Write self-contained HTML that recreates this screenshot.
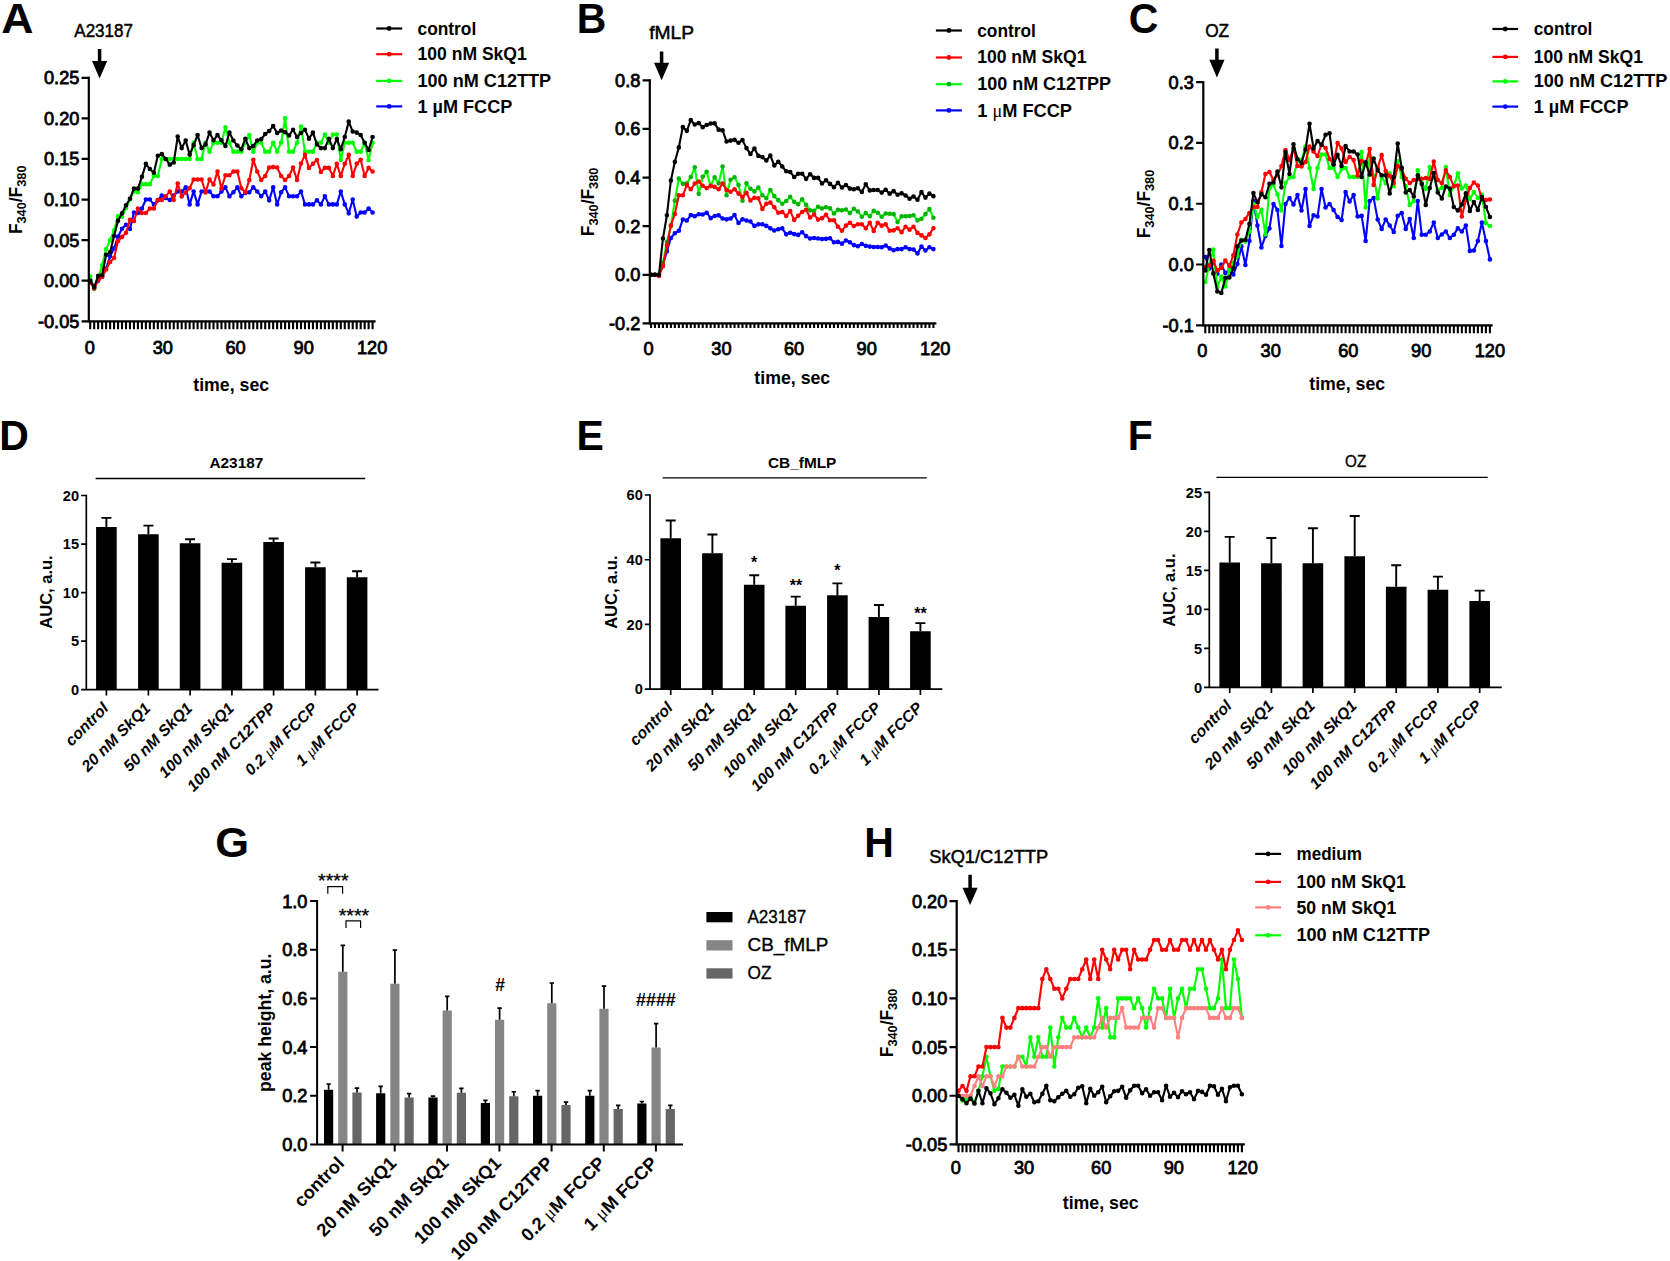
<!DOCTYPE html>
<html><head><meta charset="utf-8"><title>Figure</title>
<style>html,body{margin:0;padding:0;background:#fff}svg{display:block}</style></head>
<body>
<svg width="1670" height="1261" viewBox="0 0 1670 1261" font-family="'Liberation Sans',sans-serif" fill="#000">
<rect width="1670" height="1261" fill="#fff"/>
<g>
<polyline points="90.2,279.5 94.18,287.21 98.15,280.72 102.13,276.66 106.11,268.54 110.09,256.37 114.06,248.25 118.04,236.48 122.02,228.77 126,224.71 129.97,229.01 133.95,212.54 137.93,213.02 141.91,208.48 145.88,199.55 149.86,199.55 153.84,204.42 157.82,200.36 161.79,195.49 165.77,197.93 169.75,200.04 173.73,195.49 177.7,191.43 181.68,191.43 185.66,187.38 189.64,204.42 193.61,191.43 197.59,204.42 201.57,191.43 205.55,191.43 209.52,191.43 213.5,196.3 217.48,196.3 221.46,191.43 225.43,187.38 229.41,196.3 233.39,192.25 237.37,187.38 241.34,196.3 245.32,193.06 249.3,192.25 253.28,187.38 257.25,191.43 261.23,196.3 265.21,191.43 269.19,200.36 273.16,187.38 277.14,204.42 281.12,192.25 285.1,187.38 289.07,196.3 293.05,196.3 297.03,196.3 301.01,191.43 304.98,204.42 308.96,204.42 312.94,204.42 316.92,200.36 320.89,204.42 324.87,196.3 328.85,204.42 332.83,204.42 336.8,204.42 340.78,191.43 344.76,204.42 348.74,213.35 352.71,199.55 356.69,216.59 360.67,212.54 364.65,212.54 368.62,208.48 372.6,212.54" fill="none" stroke="#0000FF" stroke-width="2.1" stroke-linejoin="round"/>
<path d="M90.2 279.5h.01M94.18 287.21h.01M98.15 280.72h.01M102.13 276.66h.01M106.11 268.54h.01M110.09 256.37h.01M114.06 248.25h.01M118.04 236.48h.01M122.02 228.77h.01M126 224.71h.01M129.97 229.01h.01M133.95 212.54h.01M137.93 213.02h.01M141.91 208.48h.01M145.88 199.55h.01M149.86 199.55h.01M153.84 204.42h.01M157.82 200.36h.01M161.79 195.49h.01M165.77 197.93h.01M169.75 200.04h.01M173.73 195.49h.01M177.7 191.43h.01M181.68 191.43h.01M185.66 187.38h.01M189.64 204.42h.01M193.61 191.43h.01M197.59 204.42h.01M201.57 191.43h.01M205.55 191.43h.01M209.52 191.43h.01M213.5 196.3h.01M217.48 196.3h.01M221.46 191.43h.01M225.43 187.38h.01M229.41 196.3h.01M233.39 192.25h.01M237.37 187.38h.01M241.34 196.3h.01M245.32 193.06h.01M249.3 192.25h.01M253.28 187.38h.01M257.25 191.43h.01M261.23 196.3h.01M265.21 191.43h.01M269.19 200.36h.01M273.16 187.38h.01M277.14 204.42h.01M281.12 192.25h.01M285.1 187.38h.01M289.07 196.3h.01M293.05 196.3h.01M297.03 196.3h.01M301.01 191.43h.01M304.98 204.42h.01M308.96 204.42h.01M312.94 204.42h.01M316.92 200.36h.01M320.89 204.42h.01M324.87 196.3h.01M328.85 204.42h.01M332.83 204.42h.01M336.8 204.42h.01M340.78 191.43h.01M344.76 204.42h.01M348.74 213.35h.01M352.71 199.55h.01M356.69 216.59h.01M360.67 212.54h.01M364.65 212.54h.01M368.62 208.48h.01M372.6 212.54h.01" stroke="#0000FF" stroke-width="4.6" stroke-linecap="round" fill="none"/>
<polyline points="90.2,276.66 94.18,288.83 98.15,278.28 102.13,265.3 106.11,249.06 110.09,240.13 114.06,230.39 118.04,216.03 122.02,216.59 126,208.07 129.97,199.55 133.95,191.43 137.93,192.25 141.91,184.13 145.88,184.13 149.86,184.13 153.84,176.01 157.82,176.01 161.79,158.97 165.77,158.97 169.75,158.97 173.73,158.97 177.7,158.97 181.68,158.97 185.66,158.97 189.64,158.97 193.61,142.73 197.59,158.97 201.57,158.97 205.55,142.73 209.52,151.66 213.5,142.73 217.48,142.73 221.46,142.73 225.43,127.31 229.41,142.73 233.39,151.66 237.37,151.66 241.34,151.66 245.32,142.73 249.3,135.02 253.28,151.66 257.25,142.73 261.23,142.73 265.21,151.66 269.19,151.66 273.16,142.73 277.14,151.66 281.12,142.73 285.1,118.38 289.07,151.66 293.05,151.66 297.03,142.73 301.01,126.5 304.98,151.66 308.96,151.66 312.94,151.66 316.92,142.73 320.89,142.73 324.87,134.62 328.85,142.73 332.83,134.62 336.8,134.62 340.78,160.02 344.76,142.73 348.74,142.73 352.71,142.73 356.69,151.66 360.67,151.66 364.65,142.73 368.62,160.02 372.6,142.73" fill="none" stroke="#00FF00" stroke-width="2.1" stroke-linejoin="round"/>
<path d="M90.2 276.66h.01M94.18 288.83h.01M98.15 278.28h.01M102.13 265.3h.01M106.11 249.06h.01M110.09 240.13h.01M114.06 230.39h.01M118.04 216.03h.01M122.02 216.59h.01M126 208.07h.01M129.97 199.55h.01M133.95 191.43h.01M137.93 192.25h.01M141.91 184.13h.01M145.88 184.13h.01M149.86 184.13h.01M153.84 176.01h.01M157.82 176.01h.01M161.79 158.97h.01M165.77 158.97h.01M169.75 158.97h.01M173.73 158.97h.01M177.7 158.97h.01M181.68 158.97h.01M185.66 158.97h.01M189.64 158.97h.01M193.61 142.73h.01M197.59 158.97h.01M201.57 158.97h.01M205.55 142.73h.01M209.52 151.66h.01M213.5 142.73h.01M217.48 142.73h.01M221.46 142.73h.01M225.43 127.31h.01M229.41 142.73h.01M233.39 151.66h.01M237.37 151.66h.01M241.34 151.66h.01M245.32 142.73h.01M249.3 135.02h.01M253.28 151.66h.01M257.25 142.73h.01M261.23 142.73h.01M265.21 151.66h.01M269.19 151.66h.01M273.16 142.73h.01M277.14 151.66h.01M281.12 142.73h.01M285.1 118.38h.01M289.07 151.66h.01M293.05 151.66h.01M297.03 142.73h.01M301.01 126.5h.01M304.98 151.66h.01M308.96 151.66h.01M312.94 151.66h.01M316.92 142.73h.01M320.89 142.73h.01M324.87 134.62h.01M328.85 142.73h.01M332.83 134.62h.01M336.8 134.62h.01M340.78 160.02h.01M344.76 142.73h.01M348.74 142.73h.01M352.71 142.73h.01M356.69 151.66h.01M360.67 151.66h.01M364.65 142.73h.01M368.62 160.02h.01M372.6 142.73h.01" stroke="#00FF00" stroke-width="4.6" stroke-linecap="round" fill="none"/>
<polyline points="90.2,282.34 94.18,288.51 98.15,279.9 102.13,277.06 106.11,269.52 110.09,262.05 114.06,257.99 118.04,240.94 122.02,236.89 126,232.83 129.97,219.84 133.95,221.06 137.93,208.48 141.91,213.02 145.88,213.02 149.86,208.48 153.84,208.48 157.82,200.04 161.79,200.04 165.77,196.3 169.75,191.43 173.73,200.04 177.7,183.56 181.68,196.55 185.66,192.49 189.64,188.19 193.61,179.5 197.59,179.5 201.57,179.5 205.55,192.49 209.52,179.5 213.5,184.53 217.48,171.55 221.46,188.51 225.43,175.2 229.41,175.2 233.39,171.55 237.37,171.55 241.34,188.19 245.32,192.25 249.3,180.07 253.28,159.78 257.25,171.55 261.23,180.07 265.21,176.01 269.19,167.57 273.16,167.08 277.14,167.57 281.12,176.01 285.1,180.07 289.07,176.01 293.05,167.57 297.03,180.07 301.01,163.59 304.98,154.91 308.96,167.89 312.94,163.84 316.92,160.02 320.89,171.95 324.87,167.89 328.85,167.89 332.83,176.01 336.8,163.84 340.78,176.01 344.76,163.84 348.74,154.91 352.71,176.01 356.69,163.84 360.67,159.78 364.65,176.01 368.62,167.89 372.6,171.55" fill="none" stroke="#FF0000" stroke-width="2.1" stroke-linejoin="round"/>
<path d="M90.2 282.34h.01M94.18 288.51h.01M98.15 279.9h.01M102.13 277.06h.01M106.11 269.52h.01M110.09 262.05h.01M114.06 257.99h.01M118.04 240.94h.01M122.02 236.89h.01M126 232.83h.01M129.97 219.84h.01M133.95 221.06h.01M137.93 208.48h.01M141.91 213.02h.01M145.88 213.02h.01M149.86 208.48h.01M153.84 208.48h.01M157.82 200.04h.01M161.79 200.04h.01M165.77 196.3h.01M169.75 191.43h.01M173.73 200.04h.01M177.7 183.56h.01M181.68 196.55h.01M185.66 192.49h.01M189.64 188.19h.01M193.61 179.5h.01M197.59 179.5h.01M201.57 179.5h.01M205.55 192.49h.01M209.52 179.5h.01M213.5 184.53h.01M217.48 171.55h.01M221.46 188.51h.01M225.43 175.2h.01M229.41 175.2h.01M233.39 171.55h.01M237.37 171.55h.01M241.34 188.19h.01M245.32 192.25h.01M249.3 180.07h.01M253.28 159.78h.01M257.25 171.55h.01M261.23 180.07h.01M265.21 176.01h.01M269.19 167.57h.01M273.16 167.08h.01M277.14 167.57h.01M281.12 176.01h.01M285.1 180.07h.01M289.07 176.01h.01M293.05 167.57h.01M297.03 180.07h.01M301.01 163.59h.01M304.98 154.91h.01M308.96 167.89h.01M312.94 163.84h.01M316.92 160.02h.01M320.89 171.95h.01M324.87 167.89h.01M328.85 167.89h.01M332.83 176.01h.01M336.8 163.84h.01M340.78 176.01h.01M344.76 163.84h.01M348.74 154.91h.01M352.71 176.01h.01M356.69 163.84h.01M360.67 159.78h.01M364.65 176.01h.01M368.62 167.89h.01M372.6 171.55h.01" stroke="#FF0000" stroke-width="4.6" stroke-linecap="round" fill="none"/>
<polyline points="90.2,280.72 94.18,287.21 98.15,275.85 102.13,275.04 106.11,254.74 110.09,252.31 114.06,236.07 118.04,220.65 122.02,213.35 126,205.23 129.97,198.74 133.95,188.59 137.93,188.59 141.91,176.82 145.88,163.84 149.86,169.03 153.84,172.77 157.82,155.72 161.79,154.1 165.77,158.97 169.75,164.65 173.73,162.54 177.7,136.56 181.68,148.09 185.66,140.54 189.64,154.58 193.61,145.17 197.59,135.02 201.57,148.09 205.55,144.36 209.52,132.59 213.5,140.3 217.48,135.02 221.46,140.3 225.43,145.98 229.41,132.59 233.39,140.54 237.37,145.57 241.34,149.23 245.32,138.68 249.3,148.09 253.28,145.98 257.25,140.54 261.23,139.08 265.21,134.05 269.19,131.05 273.16,126.09 277.14,132.99 281.12,130.56 285.1,132.18 289.07,135.43 293.05,129.75 297.03,137.05 301.01,132.99 304.98,129.75 308.96,138.68 312.94,132.59 316.92,144.36 320.89,148.09 324.87,148.09 328.85,138.68 332.83,148.09 336.8,139.08 340.78,149.23 344.76,137.05 348.74,121.63 352.71,131.53 356.69,132.59 360.67,135.02 364.65,142.73 368.62,150.04 372.6,137.05" fill="none" stroke="#000" stroke-width="2.1" stroke-linejoin="round"/>
<path d="M90.2 280.72h.01M94.18 287.21h.01M98.15 275.85h.01M102.13 275.04h.01M106.11 254.74h.01M110.09 252.31h.01M114.06 236.07h.01M118.04 220.65h.01M122.02 213.35h.01M126 205.23h.01M129.97 198.74h.01M133.95 188.59h.01M137.93 188.59h.01M141.91 176.82h.01M145.88 163.84h.01M149.86 169.03h.01M153.84 172.77h.01M157.82 155.72h.01M161.79 154.1h.01M165.77 158.97h.01M169.75 164.65h.01M173.73 162.54h.01M177.7 136.56h.01M181.68 148.09h.01M185.66 140.54h.01M189.64 154.58h.01M193.61 145.17h.01M197.59 135.02h.01M201.57 148.09h.01M205.55 144.36h.01M209.52 132.59h.01M213.5 140.3h.01M217.48 135.02h.01M221.46 140.3h.01M225.43 145.98h.01M229.41 132.59h.01M233.39 140.54h.01M237.37 145.57h.01M241.34 149.23h.01M245.32 138.68h.01M249.3 148.09h.01M253.28 145.98h.01M257.25 140.54h.01M261.23 139.08h.01M265.21 134.05h.01M269.19 131.05h.01M273.16 126.09h.01M277.14 132.99h.01M281.12 130.56h.01M285.1 132.18h.01M289.07 135.43h.01M293.05 129.75h.01M297.03 137.05h.01M301.01 132.99h.01M304.98 129.75h.01M308.96 138.68h.01M312.94 132.59h.01M316.92 144.36h.01M320.89 148.09h.01M324.87 148.09h.01M328.85 138.68h.01M332.83 148.09h.01M336.8 139.08h.01M340.78 149.23h.01M344.76 137.05h.01M348.74 121.63h.01M352.71 131.53h.01M356.69 132.59h.01M360.67 135.02h.01M364.65 142.73h.01M368.62 150.04h.01M372.6 137.05h.01" stroke="#000" stroke-width="4.6" stroke-linecap="round" fill="none"/>
<path d="M88.8 76.7V322.4" stroke="#000" stroke-width="2.2" fill="none"/>
<path d="M81.6 321.3H375.6" stroke="#000" stroke-width="2.2" fill="none"/>
<path d="M90.2 321.3v7.9M94.18 321.3v7.9M98.15 321.3v7.9M102.13 321.3v7.9M106.11 321.3v7.9M110.09 321.3v7.9M114.06 321.3v7.9M118.04 321.3v7.9M122.02 321.3v7.9M126 321.3v7.9M129.97 321.3v7.9M133.95 321.3v7.9M137.93 321.3v7.9M141.91 321.3v7.9M145.88 321.3v7.9M149.86 321.3v7.9M153.84 321.3v7.9M157.82 321.3v7.9M161.79 321.3v7.9M165.77 321.3v7.9M169.75 321.3v7.9M173.73 321.3v7.9M177.7 321.3v7.9M181.68 321.3v7.9M185.66 321.3v7.9M189.64 321.3v7.9M193.61 321.3v7.9M197.59 321.3v7.9M201.57 321.3v7.9M205.55 321.3v7.9M209.52 321.3v7.9M213.5 321.3v7.9M217.48 321.3v7.9M221.46 321.3v7.9M225.43 321.3v7.9M229.41 321.3v7.9M233.39 321.3v7.9M237.37 321.3v7.9M241.34 321.3v7.9M245.32 321.3v7.9M249.3 321.3v7.9M253.28 321.3v7.9M257.25 321.3v7.9M261.23 321.3v7.9M265.21 321.3v7.9M269.19 321.3v7.9M273.16 321.3v7.9M277.14 321.3v7.9M281.12 321.3v7.9M285.1 321.3v7.9M289.07 321.3v7.9M293.05 321.3v7.9M297.03 321.3v7.9M301.01 321.3v7.9M304.98 321.3v7.9M308.96 321.3v7.9M312.94 321.3v7.9M316.92 321.3v7.9M320.89 321.3v7.9M324.87 321.3v7.9M328.85 321.3v7.9M332.83 321.3v7.9M336.8 321.3v7.9M340.78 321.3v7.9M344.76 321.3v7.9M348.74 321.3v7.9M352.71 321.3v7.9M356.69 321.3v7.9M360.67 321.3v7.9M364.65 321.3v7.9M368.62 321.3v7.9M372.6 321.3v7.9" stroke="#000" stroke-width="2.1" fill="none"/>
<text x="79.4" y="84.3" font-size="18.2" text-anchor="end" stroke="#000" stroke-width="0.8">0.25</text>
<text x="79.4" y="124.88" font-size="18.2" text-anchor="end" stroke="#000" stroke-width="0.8">0.20</text>
<text x="79.4" y="165.47" font-size="18.2" text-anchor="end" stroke="#000" stroke-width="0.8">0.15</text>
<text x="79.4" y="206.05" font-size="18.2" text-anchor="end" stroke="#000" stroke-width="0.8">0.10</text>
<text x="79.4" y="246.63" font-size="18.2" text-anchor="end" stroke="#000" stroke-width="0.8">0.05</text>
<text x="79.4" y="287.22" font-size="18.2" text-anchor="end" stroke="#000" stroke-width="0.8">0.00</text>
<text x="79.4" y="327.8" font-size="18.2" text-anchor="end" stroke="#000" stroke-width="0.8">-0.05</text>
<path d="M81.6 77.8H88.8M81.6 118.38H88.8M81.6 158.97H88.8M81.6 199.55H88.8M81.6 240.13H88.8M81.6 280.72H88.8" stroke="#000" stroke-width="2.2" fill="none"/>
<text x="89.9" y="354.2" font-size="18.2" text-anchor="middle" stroke="#000" stroke-width="0.8">0</text>
<text x="162.8" y="354.2" font-size="18.2" text-anchor="middle" stroke="#000" stroke-width="0.8">30</text>
<text x="235.5" y="354.2" font-size="18.2" text-anchor="middle" stroke="#000" stroke-width="0.8">60</text>
<text x="303.7" y="354.2" font-size="18.2" text-anchor="middle" stroke="#000" stroke-width="0.8">90</text>
<text x="372.1" y="354.2" font-size="18.2" text-anchor="middle" stroke="#000" stroke-width="0.8">120</text>
<text x="231.2" y="390.8" font-size="18.2" text-anchor="middle" font-weight="bold" textLength="75.9" lengthAdjust="spacingAndGlyphs" >time, sec</text>
<text transform="translate(22.2 199.8) rotate(-90)" font-size="18.2" font-weight="bold" text-anchor="middle" textLength="68.6" lengthAdjust="spacingAndGlyphs">F<tspan font-size="13.4" dy="4.2">340</tspan><tspan dy="-4.2">/F</tspan><tspan font-size="13.4" dy="4.2">380</tspan></text>
<path d="M376.2 28.5H402.2" stroke="#000" stroke-width="2.2" fill="none"/>
<circle cx="389.2" cy="28.5" r="2.4" fill="#000"/>
<text x="417.5" y="34.7" font-size="18.2" font-weight="bold" textLength="58.7" lengthAdjust="spacingAndGlyphs" >control</text>
<path d="M376.2 54.2H402.2" stroke="#FF0000" stroke-width="2.2" fill="none"/>
<circle cx="389.2" cy="54.2" r="2.4" fill="#FF0000"/>
<text x="417.5" y="60.2" font-size="18.2" font-weight="bold" textLength="109.3" lengthAdjust="spacingAndGlyphs" >100 nM SkQ1</text>
<path d="M376.2 80.9H402.2" stroke="#00FF00" stroke-width="2.2" fill="none"/>
<circle cx="389.2" cy="80.9" r="2.4" fill="#00FF00"/>
<text x="417.5" y="86.9" font-size="18.2" font-weight="bold" textLength="133.7" lengthAdjust="spacingAndGlyphs" >100 nM C12TTP</text>
<path d="M376.2 106.4H402.2" stroke="#0000FF" stroke-width="2.2" fill="none"/>
<circle cx="389.2" cy="106.4" r="2.4" fill="#0000FF"/>
<text x="417.5" y="112.6" font-size="18.2" font-weight="bold" textLength="94.8" lengthAdjust="spacingAndGlyphs" >1 µM FCCP</text>
<text x="74.3" y="37.1" font-size="18.8" textLength="58.7" lengthAdjust="spacingAndGlyphs" stroke="#000" stroke-width="0.5">A23187</text>
<path d="M97.85 49.1V61H92L99.6 78.4L107.2 61H101.35V49.1Z" fill="#000"/>
<text transform="translate(1.2 33.3) scale(1.09,1.045)" font-size="41" font-weight="bold">A</text>
</g>
<g>
<polyline points="651,274.78 654.98,274.78 658.95,274.78 662.93,265.06 666.91,251.2 670.89,237.93 674.86,233.21 678.84,230.78 682.82,219.6 686.8,220.57 690.77,215.12 694.75,216.31 698.73,214.25 702.71,214.49 706.68,212.72 710.66,218.14 714.64,215.95 718.62,215.37 722.59,218.48 726.57,219.35 730.55,218.48 734.53,215.12 738.5,222.93 742.48,219.35 746.46,220.57 750.44,221.54 754.41,225.92 758.39,224.36 762.37,224.22 766.35,225.92 770.32,228.35 774.3,230.54 778.28,229.32 782.26,228.35 786.23,234.33 790.21,232.72 794.19,234.09 798.17,234.91 802.14,232.24 806.12,236.13 810.1,238.56 814.08,237.93 818.05,238.56 822.03,239.12 826.01,238.87 829.99,238.31 833.96,242.25 837.94,241.89 841.92,243.66 845.9,240.5 849.87,242.25 853.85,245.12 857.83,246.22 861.81,244.05 865.78,245.85 869.76,246.58 873.74,246.95 877.72,246.95 881.69,247.31 885.67,245.49 889.65,248.38 893.63,250.23 897.6,249.08 901.58,249.08 905.56,247.31 909.54,249.08 913.51,249.5 917.49,253.41 921.47,246.58 925.45,250.54 929.42,247.31 933.4,249.08" fill="none" stroke="#0000FF" stroke-width="2.1" stroke-linejoin="round"/>
<path d="M651 274.78h.01M654.98 274.78h.01M658.95 274.78h.01M662.93 265.06h.01M666.91 251.2h.01M670.89 237.93h.01M674.86 233.21h.01M678.84 230.78h.01M682.82 219.6h.01M686.8 220.57h.01M690.77 215.12h.01M694.75 216.31h.01M698.73 214.25h.01M702.71 214.49h.01M706.68 212.72h.01M710.66 218.14h.01M714.64 215.95h.01M718.62 215.37h.01M722.59 218.48h.01M726.57 219.35h.01M730.55 218.48h.01M734.53 215.12h.01M738.5 222.93h.01M742.48 219.35h.01M746.46 220.57h.01M750.44 221.54h.01M754.41 225.92h.01M758.39 224.36h.01M762.37 224.22h.01M766.35 225.92h.01M770.32 228.35h.01M774.3 230.54h.01M778.28 229.32h.01M782.26 228.35h.01M786.23 234.33h.01M790.21 232.72h.01M794.19 234.09h.01M798.17 234.91h.01M802.14 232.24h.01M806.12 236.13h.01M810.1 238.56h.01M814.08 237.93h.01M818.05 238.56h.01M822.03 239.12h.01M826.01 238.87h.01M829.99 238.31h.01M833.96 242.25h.01M837.94 241.89h.01M841.92 243.66h.01M845.9 240.5h.01M849.87 242.25h.01M853.85 245.12h.01M857.83 246.22h.01M861.81 244.05h.01M865.78 245.85h.01M869.76 246.58h.01M873.74 246.95h.01M877.72 246.95h.01M881.69 247.31h.01M885.67 245.49h.01M889.65 248.38h.01M893.63 250.23h.01M897.6 249.08h.01M901.58 249.08h.01M905.56 247.31h.01M909.54 249.08h.01M913.51 249.5h.01M917.49 253.41h.01M921.47 246.58h.01M925.45 250.54h.01M929.42 247.31h.01M933.4 249.08h.01" stroke="#0000FF" stroke-width="4.6" stroke-linecap="round" fill="none"/>
<polyline points="651,274.78 654.98,274.78 658.95,274.78 662.93,262.62 666.91,241.96 670.89,226.16 674.86,200.63 678.84,178.51 682.82,183.86 686.8,183.37 690.77,176.93 694.75,167.33 698.73,193.83 702.71,176.69 706.68,171.71 710.66,186.29 714.64,177.3 718.62,183.37 722.59,166.6 726.57,195.29 730.55,179.73 734.53,177.3 738.5,185.08 742.48,200.63 746.46,183.37 750.44,188.72 754.41,191.4 758.39,187.51 762.37,195.29 766.35,198.3 770.32,189.94 774.3,196.14 778.28,200.15 782.26,203.79 786.23,200.95 790.21,196.87 794.19,201.85 798.17,204.28 802.14,199.42 806.12,204.91 810.1,210.36 814.08,210.92 818.05,206.71 822.03,208.51 826.01,207.32 829.99,208.41 833.96,213.45 837.94,209.87 841.92,210.19 845.9,209.48 849.87,213.08 853.85,208.75 857.83,211.57 861.81,216.68 865.78,213.08 869.76,216.31 873.74,210.92 877.72,212.72 881.69,216.68 885.67,213.45 889.65,213.81 893.63,214.15 897.6,222.08 901.58,216.31 905.56,216.31 909.54,215.95 913.51,215.22 917.49,220.33 921.47,218.87 925.45,214.15 929.42,209.14 933.4,217.77" fill="none" stroke="#00FF00" stroke-width="2.1" stroke-linejoin="round"/>
<path d="M651 274.78h.01M654.98 274.78h.01M658.95 274.78h.01M662.93 262.62h.01M666.91 241.96h.01M670.89 226.16h.01M674.86 200.63h.01M678.84 178.51h.01M682.82 183.86h.01M686.8 183.37h.01M690.77 176.93h.01M694.75 167.33h.01M698.73 193.83h.01M702.71 176.69h.01M706.68 171.71h.01M710.66 186.29h.01M714.64 177.3h.01M718.62 183.37h.01M722.59 166.6h.01M726.57 195.29h.01M730.55 179.73h.01M734.53 177.3h.01M738.5 185.08h.01M742.48 200.63h.01M746.46 183.37h.01M750.44 188.72h.01M754.41 191.4h.01M758.39 187.51h.01M762.37 195.29h.01M766.35 198.3h.01M770.32 189.94h.01M774.3 196.14h.01M778.28 200.15h.01M782.26 203.79h.01M786.23 200.95h.01M790.21 196.87h.01M794.19 201.85h.01M798.17 204.28h.01M802.14 199.42h.01M806.12 204.91h.01M810.1 210.36h.01M814.08 210.92h.01M818.05 206.71h.01M822.03 208.51h.01M826.01 207.32h.01M829.99 208.41h.01M833.96 213.45h.01M837.94 209.87h.01M841.92 210.19h.01M845.9 209.48h.01M849.87 213.08h.01M853.85 208.75h.01M857.83 211.57h.01M861.81 216.68h.01M865.78 213.08h.01M869.76 216.31h.01M873.74 210.92h.01M877.72 212.72h.01M881.69 216.68h.01M885.67 213.45h.01M889.65 213.81h.01M893.63 214.15h.01M897.6 222.08h.01M901.58 216.31h.01M905.56 216.31h.01M909.54 215.95h.01M913.51 215.22h.01M917.49 220.33h.01M921.47 218.87h.01M925.45 214.15h.01M929.42 209.14h.01M933.4 217.77h.01" stroke="#00B400" stroke-width="4.6" stroke-linecap="round" fill="none"/>
<polyline points="651,274.78 654.98,274.78 658.95,276 662.93,266.13 666.91,245.61 670.89,225.31 674.86,214 678.84,195.29 682.82,195.29 686.8,185.08 690.77,189.31 694.75,183.54 698.73,181.5 702.71,185.71 706.68,188.11 710.66,185.71 714.64,186.9 718.62,189.31 722.59,183.54 726.57,189.94 730.55,191.71 734.53,189.31 738.5,193.58 742.48,197.11 746.46,192.9 750.44,200.46 754.41,197.72 758.39,198.3 762.37,208.9 766.35,203.79 770.32,202.58 774.3,207.32 778.28,212.79 782.26,212.06 786.23,215.95 790.21,211.16 794.19,219.91 798.17,215.71 802.14,212.06 806.12,209.7 810.1,217.51 814.08,214.49 818.05,219.6 822.03,218.14 826.01,214.88 829.99,220.28 833.96,220.28 837.94,226.77 841.92,230.78 845.9,225.67 849.87,222.81 853.85,226.04 857.83,224.22 861.81,224.22 865.78,228.2 869.76,222.81 873.74,231.02 877.72,222.81 881.69,225.67 885.67,224.22 889.65,230.78 893.63,230.37 897.6,228.2 901.58,232.16 905.56,226.77 909.54,229.64 913.51,226.77 917.49,232.89 921.47,235.4 925.45,237.93 929.42,234.33 933.4,228.2" fill="none" stroke="#FF0000" stroke-width="2.1" stroke-linejoin="round"/>
<path d="M651 274.78h.01M654.98 274.78h.01M658.95 276h.01M662.93 266.13h.01M666.91 245.61h.01M670.89 225.31h.01M674.86 214h.01M678.84 195.29h.01M682.82 195.29h.01M686.8 185.08h.01M690.77 189.31h.01M694.75 183.54h.01M698.73 181.5h.01M702.71 185.71h.01M706.68 188.11h.01M710.66 185.71h.01M714.64 186.9h.01M718.62 189.31h.01M722.59 183.54h.01M726.57 189.94h.01M730.55 191.71h.01M734.53 189.31h.01M738.5 193.58h.01M742.48 197.11h.01M746.46 192.9h.01M750.44 200.46h.01M754.41 197.72h.01M758.39 198.3h.01M762.37 208.9h.01M766.35 203.79h.01M770.32 202.58h.01M774.3 207.32h.01M778.28 212.79h.01M782.26 212.06h.01M786.23 215.95h.01M790.21 211.16h.01M794.19 219.91h.01M798.17 215.71h.01M802.14 212.06h.01M806.12 209.7h.01M810.1 217.51h.01M814.08 214.49h.01M818.05 219.6h.01M822.03 218.14h.01M826.01 214.88h.01M829.99 220.28h.01M833.96 220.28h.01M837.94 226.77h.01M841.92 230.78h.01M845.9 225.67h.01M849.87 222.81h.01M853.85 226.04h.01M857.83 224.22h.01M861.81 224.22h.01M865.78 228.2h.01M869.76 222.81h.01M873.74 231.02h.01M877.72 222.81h.01M881.69 225.67h.01M885.67 224.22h.01M889.65 230.78h.01M893.63 230.37h.01M897.6 228.2h.01M901.58 232.16h.01M905.56 226.77h.01M909.54 229.64h.01M913.51 226.77h.01M917.49 232.89h.01M921.47 235.4h.01M925.45 237.93h.01M929.42 234.33h.01M933.4 228.2h.01" stroke="#FF0000" stroke-width="4.6" stroke-linecap="round" fill="none"/>
<polyline points="651,274.78 654.98,274.78 658.95,274.78 662.93,238.56 666.91,215.22 670.89,180.46 674.86,161.74 678.84,147.4 682.82,126.98 686.8,130.86 690.77,120.17 694.75,124.54 698.73,123.09 702.71,127.22 706.68,125.03 710.66,123.57 714.64,123.33 718.62,129.65 722.59,130.38 726.57,141.56 730.55,140.59 734.53,139.86 738.5,142.78 742.48,140.1 746.46,148.12 750.44,153.96 754.41,148.61 758.39,155.9 762.37,157.12 766.35,160.52 770.32,155.66 774.3,165.38 778.28,161.74 782.26,166.5 786.23,171.29 790.21,171.95 794.19,177.05 798.17,173.7 802.14,173.7 806.12,178.85 810.1,174.31 814.08,177.9 818.05,177.9 822.03,183.54 826.01,180.31 829.99,183.91 833.96,187.14 837.94,182.89 841.92,187.51 845.9,184.98 849.87,188.6 853.85,189.31 857.83,188.24 861.81,191.88 865.78,184.35 869.76,190.42 873.74,190.04 877.72,190.04 881.69,192.61 885.67,189.69 889.65,193.63 893.63,191.15 897.6,194.8 901.58,193.34 905.56,195.53 909.54,198.69 913.51,196.5 917.49,199.76 921.47,192.13 925.45,197.6 929.42,193.63 933.4,196.16" fill="none" stroke="#000" stroke-width="2.1" stroke-linejoin="round"/>
<path d="M651 274.78h.01M654.98 274.78h.01M658.95 274.78h.01M662.93 238.56h.01M666.91 215.22h.01M670.89 180.46h.01M674.86 161.74h.01M678.84 147.4h.01M682.82 126.98h.01M686.8 130.86h.01M690.77 120.17h.01M694.75 124.54h.01M698.73 123.09h.01M702.71 127.22h.01M706.68 125.03h.01M710.66 123.57h.01M714.64 123.33h.01M718.62 129.65h.01M722.59 130.38h.01M726.57 141.56h.01M730.55 140.59h.01M734.53 139.86h.01M738.5 142.78h.01M742.48 140.1h.01M746.46 148.12h.01M750.44 153.96h.01M754.41 148.61h.01M758.39 155.9h.01M762.37 157.12h.01M766.35 160.52h.01M770.32 155.66h.01M774.3 165.38h.01M778.28 161.74h.01M782.26 166.5h.01M786.23 171.29h.01M790.21 171.95h.01M794.19 177.05h.01M798.17 173.7h.01M802.14 173.7h.01M806.12 178.85h.01M810.1 174.31h.01M814.08 177.9h.01M818.05 177.9h.01M822.03 183.54h.01M826.01 180.31h.01M829.99 183.91h.01M833.96 187.14h.01M837.94 182.89h.01M841.92 187.51h.01M845.9 184.98h.01M849.87 188.6h.01M853.85 189.31h.01M857.83 188.24h.01M861.81 191.88h.01M865.78 184.35h.01M869.76 190.42h.01M873.74 190.04h.01M877.72 190.04h.01M881.69 192.61h.01M885.67 189.69h.01M889.65 193.63h.01M893.63 191.15h.01M897.6 194.8h.01M901.58 193.34h.01M905.56 195.53h.01M909.54 198.69h.01M913.51 196.5h.01M917.49 199.76h.01M921.47 192.13h.01M925.45 197.6h.01M929.42 193.63h.01M933.4 196.16h.01" stroke="#000" stroke-width="4.6" stroke-linecap="round" fill="none"/>
<path d="M649.8 79.2V324.5" stroke="#000" stroke-width="2.2" fill="none"/>
<path d="M642.6 323.4H936.4" stroke="#000" stroke-width="2.2" fill="none"/>
<path d="M651 323.4v4.7M654.98 323.4v4.7M658.95 323.4v4.7M662.93 323.4v4.7M666.91 323.4v4.7M670.89 323.4v4.7M674.86 323.4v4.7M678.84 323.4v4.7M682.82 323.4v4.7M686.8 323.4v4.7M690.77 323.4v4.7M694.75 323.4v4.7M698.73 323.4v4.7M702.71 323.4v4.7M706.68 323.4v4.7M710.66 323.4v4.7M714.64 323.4v4.7M718.62 323.4v4.7M722.59 323.4v4.7M726.57 323.4v4.7M730.55 323.4v4.7M734.53 323.4v4.7M738.5 323.4v4.7M742.48 323.4v4.7M746.46 323.4v4.7M750.44 323.4v4.7M754.41 323.4v4.7M758.39 323.4v4.7M762.37 323.4v4.7M766.35 323.4v4.7M770.32 323.4v4.7M774.3 323.4v4.7M778.28 323.4v4.7M782.26 323.4v4.7M786.23 323.4v4.7M790.21 323.4v4.7M794.19 323.4v4.7M798.17 323.4v4.7M802.14 323.4v4.7M806.12 323.4v4.7M810.1 323.4v4.7M814.08 323.4v4.7M818.05 323.4v4.7M822.03 323.4v4.7M826.01 323.4v4.7M829.99 323.4v4.7M833.96 323.4v4.7M837.94 323.4v4.7M841.92 323.4v4.7M845.9 323.4v4.7M849.87 323.4v4.7M853.85 323.4v4.7M857.83 323.4v4.7M861.81 323.4v4.7M865.78 323.4v4.7M869.76 323.4v4.7M873.74 323.4v4.7M877.72 323.4v4.7M881.69 323.4v4.7M885.67 323.4v4.7M889.65 323.4v4.7M893.63 323.4v4.7M897.6 323.4v4.7M901.58 323.4v4.7M905.56 323.4v4.7M909.54 323.4v4.7M913.51 323.4v4.7M917.49 323.4v4.7M921.47 323.4v4.7M925.45 323.4v4.7M929.42 323.4v4.7M933.4 323.4v4.7" stroke="#000" stroke-width="2.1" fill="none"/>
<text x="640.4" y="86.8" font-size="18.2" text-anchor="end" stroke="#000" stroke-width="0.8">0.8</text>
<text x="640.4" y="135.42" font-size="18.2" text-anchor="end" stroke="#000" stroke-width="0.8">0.6</text>
<text x="640.4" y="184.04" font-size="18.2" text-anchor="end" stroke="#000" stroke-width="0.8">0.4</text>
<text x="640.4" y="232.66" font-size="18.2" text-anchor="end" stroke="#000" stroke-width="0.8">0.2</text>
<text x="640.4" y="281.28" font-size="18.2" text-anchor="end" stroke="#000" stroke-width="0.8">0.0</text>
<text x="640.4" y="329.9" font-size="18.2" text-anchor="end" stroke="#000" stroke-width="0.8">-0.2</text>
<path d="M642.6 80.3H649.8M642.6 128.92H649.8M642.6 177.54H649.8M642.6 226.16H649.8M642.6 274.78H649.8" stroke="#000" stroke-width="2.2" fill="none"/>
<text x="648.5" y="354.7" font-size="18.2" text-anchor="middle" stroke="#000" stroke-width="0.8">0</text>
<text x="721.4" y="354.7" font-size="18.2" text-anchor="middle" stroke="#000" stroke-width="0.8">30</text>
<text x="794" y="354.7" font-size="18.2" text-anchor="middle" stroke="#000" stroke-width="0.8">60</text>
<text x="866.7" y="354.7" font-size="18.2" text-anchor="middle" stroke="#000" stroke-width="0.8">90</text>
<text x="935.2" y="354.7" font-size="18.2" text-anchor="middle" stroke="#000" stroke-width="0.8">120</text>
<text x="792.3" y="384.2" font-size="18.2" text-anchor="middle" font-weight="bold" textLength="75.9" lengthAdjust="spacingAndGlyphs" >time, sec</text>
<text transform="translate(594 201.9) rotate(-90)" font-size="18.2" font-weight="bold" text-anchor="middle" textLength="68.6" lengthAdjust="spacingAndGlyphs">F<tspan font-size="13.4" dy="4.2">340</tspan><tspan dy="-4.2">/F</tspan><tspan font-size="13.4" dy="4.2">380</tspan></text>
<path d="M935.9 30.5H961.9" stroke="#000" stroke-width="2.2" fill="none"/>
<circle cx="948.9" cy="30.5" r="2.4" fill="#000"/>
<text x="977.2" y="36.5" font-size="18.2" font-weight="bold" textLength="58.7" lengthAdjust="spacingAndGlyphs" >control</text>
<path d="M935.9 57.5H961.9" stroke="#FF0000" stroke-width="2.2" fill="none"/>
<circle cx="948.9" cy="57.5" r="2.4" fill="#FF0000"/>
<text x="977.2" y="63.4" font-size="18.2" font-weight="bold" textLength="109.3" lengthAdjust="spacingAndGlyphs" >100 nM SkQ1</text>
<path d="M935.9 84.2H961.9" stroke="#00FF00" stroke-width="2.2" fill="none"/>
<circle cx="948.9" cy="84.2" r="2.4" fill="#00B400"/>
<text x="977.2" y="90.1" font-size="18.2" font-weight="bold" textLength="133.8" lengthAdjust="spacingAndGlyphs" >100 nM C12TPP</text>
<path d="M935.9 110.4H961.9" stroke="#0000FF" stroke-width="2.2" fill="none"/>
<circle cx="948.9" cy="110.4" r="2.4" fill="#0000FF"/>
<text x="977.2" y="116.5" font-size="18.2" font-weight="bold" textLength="94.8" lengthAdjust="spacingAndGlyphs" >1 <tspan font-family="Liberation Serif,DejaVu Serif,serif" font-weight="normal">μ</tspan>M FCCP</text>
<text x="649.2" y="38.9" font-size="18.8" textLength="44.9" lengthAdjust="spacingAndGlyphs" stroke="#000" stroke-width="0.5">fMLP</text>
<path d="M659.85 51.5V62.8H654L661.6 80.2L669.2 62.8H663.35V51.5Z" fill="#000"/>
<text transform="translate(576.8 33.3) scale(1,1.045)" font-size="41" font-weight="bold">B</text>
</g>
<g>
<polyline points="1205.3,256.93 1209.31,268.41 1213.32,261.49 1217.33,273.64 1221.33,264.52 1225.34,272.91 1229.35,269.99 1233.36,274.43 1237.37,263.92 1241.38,246.41 1245.38,264.95 1249.39,240.94 1253.4,200.95 1257.41,225.45 1261.42,247.51 1265.43,235.96 1269.44,228.42 1273.44,203.93 1277.45,209.95 1281.46,245.93 1285.47,203.93 1289.48,197.98 1293.49,204.48 1297.49,194.94 1301.5,210.44 1305.51,188.98 1309.52,225.93 1313.53,215.42 1317.54,216.45 1321.55,188.98 1325.55,207.46 1329.56,203.93 1333.57,209.95 1337.58,216.94 1341.59,219.92 1345.6,191.96 1349.6,201.44 1353.61,194.94 1357.62,216.45 1361.63,215.91 1365.64,240.94 1369.65,200.95 1373.65,197.98 1377.66,219.43 1381.67,228.91 1385.68,219.43 1389.69,225.45 1393.7,231.95 1397.71,215.91 1401.71,212.93 1405.72,228.91 1409.73,218.94 1413.74,237.94 1417.75,200.95 1421.76,234.75 1425.76,234.75 1429.77,231.46 1433.78,222.47 1437.79,237.94 1441.8,234.44 1445.81,231.46 1449.82,237.94 1453.82,234.75 1457.83,228.42 1461.84,231.46 1465.85,225.45 1469.86,250.91 1473.87,250.43 1477.87,240.94 1481.88,222.47 1485.89,240.94 1489.9,259.42" fill="none" stroke="#0000FF" stroke-width="2.1" stroke-linejoin="round"/>
<path d="M1205.3 256.93h.01M1209.31 268.41h.01M1213.32 261.49h.01M1217.33 273.64h.01M1221.33 264.52h.01M1225.34 272.91h.01M1229.35 269.99h.01M1233.36 274.43h.01M1237.37 263.92h.01M1241.38 246.41h.01M1245.38 264.95h.01M1249.39 240.94h.01M1253.4 200.95h.01M1257.41 225.45h.01M1261.42 247.51h.01M1265.43 235.96h.01M1269.44 228.42h.01M1273.44 203.93h.01M1277.45 209.95h.01M1281.46 245.93h.01M1285.47 203.93h.01M1289.48 197.98h.01M1293.49 204.48h.01M1297.49 194.94h.01M1301.5 210.44h.01M1305.51 188.98h.01M1309.52 225.93h.01M1313.53 215.42h.01M1317.54 216.45h.01M1321.55 188.98h.01M1325.55 207.46h.01M1329.56 203.93h.01M1333.57 209.95h.01M1337.58 216.94h.01M1341.59 219.92h.01M1345.6 191.96h.01M1349.6 201.44h.01M1353.61 194.94h.01M1357.62 216.45h.01M1361.63 215.91h.01M1365.64 240.94h.01M1369.65 200.95h.01M1373.65 197.98h.01M1377.66 219.43h.01M1381.67 228.91h.01M1385.68 219.43h.01M1389.69 225.45h.01M1393.7 231.95h.01M1397.71 215.91h.01M1401.71 212.93h.01M1405.72 228.91h.01M1409.73 218.94h.01M1413.74 237.94h.01M1417.75 200.95h.01M1421.76 234.75h.01M1425.76 234.75h.01M1429.77 231.46h.01M1433.78 222.47h.01M1437.79 237.94h.01M1441.8 234.44h.01M1445.81 231.46h.01M1449.82 237.94h.01M1453.82 234.75h.01M1457.83 228.42h.01M1461.84 231.46h.01M1465.85 225.45h.01M1469.86 250.91h.01M1473.87 250.43h.01M1477.87 240.94h.01M1481.88 222.47h.01M1485.89 240.94h.01M1489.9 259.42h.01" stroke="#0000FF" stroke-width="4.6" stroke-linecap="round" fill="none"/>
<polyline points="1205.3,281.91 1209.31,264.52 1213.32,249.45 1217.33,287.44 1221.33,276.44 1225.34,286.4 1229.35,269.99 1233.36,262.94 1237.37,256.02 1241.38,239.91 1245.38,241.43 1249.39,231.46 1253.4,203.93 1257.41,217.12 1261.42,209.83 1265.43,234.44 1269.44,187.95 1273.44,184.91 1277.45,194.45 1281.46,210.44 1285.47,182.96 1289.48,177.43 1293.49,177.01 1297.49,160.96 1301.5,159.99 1305.51,146.5 1309.52,167.95 1313.53,188.98 1317.54,167.95 1321.55,154.52 1325.55,154.52 1329.56,167.95 1333.57,167.95 1337.58,177.01 1341.59,169.11 1345.6,167.95 1349.6,177.01 1353.61,177.01 1357.62,177.01 1361.63,152.09 1365.64,207.4 1369.65,155.98 1373.65,175.79 1377.66,198.46 1381.67,177.01 1385.68,183.09 1389.69,173.36 1393.7,186.13 1397.71,160.96 1401.71,177.01 1405.72,186.13 1409.73,204.97 1413.74,200.95 1417.75,170.32 1421.76,183.09 1425.76,188.98 1429.77,166.98 1433.78,177.01 1437.79,189.95 1441.8,187.95 1445.81,166.98 1449.82,194.94 1453.82,186.13 1457.83,173.36 1461.84,188.56 1465.85,185.52 1469.86,198.89 1473.87,191.96 1477.87,197.98 1481.88,194.45 1485.89,222.95 1489.9,225.93" fill="none" stroke="#00FF00" stroke-width="2.1" stroke-linejoin="round"/>
<path d="M1205.3 281.91h.01M1209.31 264.52h.01M1213.32 249.45h.01M1217.33 287.44h.01M1221.33 276.44h.01M1225.34 286.4h.01M1229.35 269.99h.01M1233.36 262.94h.01M1237.37 256.02h.01M1241.38 239.91h.01M1245.38 241.43h.01M1249.39 231.46h.01M1253.4 203.93h.01M1257.41 217.12h.01M1261.42 209.83h.01M1265.43 234.44h.01M1269.44 187.95h.01M1273.44 184.91h.01M1277.45 194.45h.01M1281.46 210.44h.01M1285.47 182.96h.01M1289.48 177.43h.01M1293.49 177.01h.01M1297.49 160.96h.01M1301.5 159.99h.01M1305.51 146.5h.01M1309.52 167.95h.01M1313.53 188.98h.01M1317.54 167.95h.01M1321.55 154.52h.01M1325.55 154.52h.01M1329.56 167.95h.01M1333.57 167.95h.01M1337.58 177.01h.01M1341.59 169.11h.01M1345.6 167.95h.01M1349.6 177.01h.01M1353.61 177.01h.01M1357.62 177.01h.01M1361.63 152.09h.01M1365.64 207.4h.01M1369.65 155.98h.01M1373.65 175.79h.01M1377.66 198.46h.01M1381.67 177.01h.01M1385.68 183.09h.01M1389.69 173.36h.01M1393.7 186.13h.01M1397.71 160.96h.01M1401.71 177.01h.01M1405.72 186.13h.01M1409.73 204.97h.01M1413.74 200.95h.01M1417.75 170.32h.01M1421.76 183.09h.01M1425.76 188.98h.01M1429.77 166.98h.01M1433.78 177.01h.01M1437.79 189.95h.01M1441.8 187.95h.01M1445.81 166.98h.01M1449.82 194.94h.01M1453.82 186.13h.01M1457.83 173.36h.01M1461.84 188.56h.01M1465.85 185.52h.01M1469.86 198.89h.01M1473.87 191.96h.01M1477.87 197.98h.01M1481.88 194.45h.01M1485.89 222.95h.01M1489.9 225.93h.01" stroke="#00FF00" stroke-width="4.6" stroke-linecap="round" fill="none"/>
<polyline points="1205.3,267.56 1209.31,265.44 1213.32,260.88 1217.33,270.42 1221.33,267.93 1225.34,260.45 1229.35,265.92 1233.36,255.41 1237.37,234.44 1241.38,222.47 1245.38,218.94 1249.39,212.93 1253.4,206.97 1257.41,206.97 1261.42,192.2 1265.43,173.97 1269.44,171.96 1273.44,180.05 1277.45,175.19 1281.46,166.07 1285.47,149.96 1289.48,159.99 1293.49,147.96 1297.49,166.07 1301.5,166.49 1305.51,162 1309.52,146.62 1313.53,151.48 1317.54,155.98 1321.55,144.19 1325.55,147.96 1329.56,158.96 1333.57,164.25 1337.58,142.97 1341.59,148.44 1345.6,162 1349.6,156.95 1353.61,159.99 1357.62,175.49 1361.63,160.96 1365.64,163.94 1369.65,149.05 1373.65,184.91 1377.66,167.89 1381.67,155.13 1385.68,170.93 1389.69,175.98 1393.7,183.09 1397.71,166.07 1401.71,169.11 1405.72,178.83 1409.73,183.09 1413.74,180.05 1417.75,178.83 1421.76,178.83 1425.76,177.98 1429.77,178.83 1433.78,161.45 1437.79,180.05 1441.8,183.09 1445.81,170.32 1449.82,177.01 1453.82,186.13 1457.83,185.52 1461.84,216.51 1465.85,200.1 1469.86,187.95 1473.87,182.48 1477.87,185.52 1481.88,198.89 1485.89,200.1 1489.9,199.5" fill="none" stroke="#FF0000" stroke-width="2.1" stroke-linejoin="round"/>
<path d="M1205.3 267.56h.01M1209.31 265.44h.01M1213.32 260.88h.01M1217.33 270.42h.01M1221.33 267.93h.01M1225.34 260.45h.01M1229.35 265.92h.01M1233.36 255.41h.01M1237.37 234.44h.01M1241.38 222.47h.01M1245.38 218.94h.01M1249.39 212.93h.01M1253.4 206.97h.01M1257.41 206.97h.01M1261.42 192.2h.01M1265.43 173.97h.01M1269.44 171.96h.01M1273.44 180.05h.01M1277.45 175.19h.01M1281.46 166.07h.01M1285.47 149.96h.01M1289.48 159.99h.01M1293.49 147.96h.01M1297.49 166.07h.01M1301.5 166.49h.01M1305.51 162h.01M1309.52 146.62h.01M1313.53 151.48h.01M1317.54 155.98h.01M1321.55 144.19h.01M1325.55 147.96h.01M1329.56 158.96h.01M1333.57 164.25h.01M1337.58 142.97h.01M1341.59 148.44h.01M1345.6 162h.01M1349.6 156.95h.01M1353.61 159.99h.01M1357.62 175.49h.01M1361.63 160.96h.01M1365.64 163.94h.01M1369.65 149.05h.01M1373.65 184.91h.01M1377.66 167.89h.01M1381.67 155.13h.01M1385.68 170.93h.01M1389.69 175.98h.01M1393.7 183.09h.01M1397.71 166.07h.01M1401.71 169.11h.01M1405.72 178.83h.01M1409.73 183.09h.01M1413.74 180.05h.01M1417.75 178.83h.01M1421.76 178.83h.01M1425.76 177.98h.01M1429.77 178.83h.01M1433.78 161.45h.01M1437.79 180.05h.01M1441.8 183.09h.01M1445.81 170.32h.01M1449.82 177.01h.01M1453.82 186.13h.01M1457.83 185.52h.01M1461.84 216.51h.01M1465.85 200.1h.01M1469.86 187.95h.01M1473.87 182.48h.01M1477.87 185.52h.01M1481.88 198.89h.01M1485.89 200.1h.01M1489.9 199.5h.01" stroke="#FF0000" stroke-width="4.6" stroke-linecap="round" fill="none"/>
<polyline points="1205.3,270.42 1209.31,249.94 1213.32,273.4 1217.33,291.39 1221.33,292.91 1225.34,277.9 1229.35,277.41 1233.36,268.41 1237.37,246.41 1241.38,240.46 1245.38,239.91 1249.39,223.93 1253.4,193.11 1257.41,202.23 1261.42,194.21 1265.43,197.19 1269.44,183.69 1273.44,182.48 1277.45,171.54 1281.46,187.34 1285.47,152.09 1289.48,173.97 1293.49,144.19 1297.49,158.96 1301.5,163.03 1305.51,149.48 1309.52,123.77 1313.53,148.44 1317.54,140.97 1321.55,144.98 1325.55,134.77 1329.56,133.25 1333.57,164.49 1337.58,154.77 1341.59,166.07 1345.6,146.01 1349.6,151.48 1353.61,151.48 1357.62,154.52 1361.63,177.01 1365.64,162.42 1369.65,174.58 1373.65,158.47 1377.66,170.32 1381.67,175.19 1385.68,175.19 1389.69,193.42 1393.7,177.01 1397.71,143.58 1401.71,167.89 1405.72,192.45 1409.73,189.95 1413.74,196.46 1417.75,175.19 1421.76,183.94 1425.76,204.97 1429.77,187.95 1433.78,172.94 1437.79,192.45 1441.8,198.46 1445.81,186.43 1449.82,188.56 1453.82,206.97 1457.83,210.44 1461.84,204.48 1465.85,193.42 1469.86,211.04 1473.87,201.93 1477.87,209.95 1481.88,196.94 1485.89,206.97 1489.9,216.94" fill="none" stroke="#000" stroke-width="2.1" stroke-linejoin="round"/>
<path d="M1205.3 270.42h.01M1209.31 249.94h.01M1213.32 273.4h.01M1217.33 291.39h.01M1221.33 292.91h.01M1225.34 277.9h.01M1229.35 277.41h.01M1233.36 268.41h.01M1237.37 246.41h.01M1241.38 240.46h.01M1245.38 239.91h.01M1249.39 223.93h.01M1253.4 193.11h.01M1257.41 202.23h.01M1261.42 194.21h.01M1265.43 197.19h.01M1269.44 183.69h.01M1273.44 182.48h.01M1277.45 171.54h.01M1281.46 187.34h.01M1285.47 152.09h.01M1289.48 173.97h.01M1293.49 144.19h.01M1297.49 158.96h.01M1301.5 163.03h.01M1305.51 149.48h.01M1309.52 123.77h.01M1313.53 148.44h.01M1317.54 140.97h.01M1321.55 144.98h.01M1325.55 134.77h.01M1329.56 133.25h.01M1333.57 164.49h.01M1337.58 154.77h.01M1341.59 166.07h.01M1345.6 146.01h.01M1349.6 151.48h.01M1353.61 151.48h.01M1357.62 154.52h.01M1361.63 177.01h.01M1365.64 162.42h.01M1369.65 174.58h.01M1373.65 158.47h.01M1377.66 170.32h.01M1381.67 175.19h.01M1385.68 175.19h.01M1389.69 193.42h.01M1393.7 177.01h.01M1397.71 143.58h.01M1401.71 167.89h.01M1405.72 192.45h.01M1409.73 189.95h.01M1413.74 196.46h.01M1417.75 175.19h.01M1421.76 183.94h.01M1425.76 204.97h.01M1429.77 187.95h.01M1433.78 172.94h.01M1437.79 192.45h.01M1441.8 198.46h.01M1445.81 186.43h.01M1449.82 188.56h.01M1453.82 206.97h.01M1457.83 210.44h.01M1461.84 204.48h.01M1465.85 193.42h.01M1469.86 211.04h.01M1473.87 201.93h.01M1477.87 209.95h.01M1481.88 196.94h.01M1485.89 206.97h.01M1489.9 216.94h.01" stroke="#000" stroke-width="4.6" stroke-linecap="round" fill="none"/>
<path d="M1203.3 81.1V326.4" stroke="#000" stroke-width="2.2" fill="none"/>
<path d="M1196.1 325.3H1492.7" stroke="#000" stroke-width="2.2" fill="none"/>
<path d="M1205.3 325.3v7.9M1209.31 325.3v7.9M1213.32 325.3v7.9M1217.33 325.3v7.9M1221.33 325.3v7.9M1225.34 325.3v7.9M1229.35 325.3v7.9M1233.36 325.3v7.9M1237.37 325.3v7.9M1241.38 325.3v7.9M1245.38 325.3v7.9M1249.39 325.3v7.9M1253.4 325.3v7.9M1257.41 325.3v7.9M1261.42 325.3v7.9M1265.43 325.3v7.9M1269.44 325.3v7.9M1273.44 325.3v7.9M1277.45 325.3v7.9M1281.46 325.3v7.9M1285.47 325.3v7.9M1289.48 325.3v7.9M1293.49 325.3v7.9M1297.49 325.3v7.9M1301.5 325.3v7.9M1305.51 325.3v7.9M1309.52 325.3v7.9M1313.53 325.3v7.9M1317.54 325.3v7.9M1321.55 325.3v7.9M1325.55 325.3v7.9M1329.56 325.3v7.9M1333.57 325.3v7.9M1337.58 325.3v7.9M1341.59 325.3v7.9M1345.6 325.3v7.9M1349.6 325.3v7.9M1353.61 325.3v7.9M1357.62 325.3v7.9M1361.63 325.3v7.9M1365.64 325.3v7.9M1369.65 325.3v7.9M1373.65 325.3v7.9M1377.66 325.3v7.9M1381.67 325.3v7.9M1385.68 325.3v7.9M1389.69 325.3v7.9M1393.7 325.3v7.9M1397.71 325.3v7.9M1401.71 325.3v7.9M1405.72 325.3v7.9M1409.73 325.3v7.9M1413.74 325.3v7.9M1417.75 325.3v7.9M1421.76 325.3v7.9M1425.76 325.3v7.9M1429.77 325.3v7.9M1433.78 325.3v7.9M1437.79 325.3v7.9M1441.8 325.3v7.9M1445.81 325.3v7.9M1449.82 325.3v7.9M1453.82 325.3v7.9M1457.83 325.3v7.9M1461.84 325.3v7.9M1465.85 325.3v7.9M1469.86 325.3v7.9M1473.87 325.3v7.9M1477.87 325.3v7.9M1481.88 325.3v7.9M1485.89 325.3v7.9M1489.9 325.3v7.9" stroke="#000" stroke-width="2.1" fill="none"/>
<text x="1193.9" y="88.7" font-size="18.2" text-anchor="end" stroke="#000" stroke-width="0.8">0.3</text>
<text x="1193.9" y="149.47" font-size="18.2" text-anchor="end" stroke="#000" stroke-width="0.8">0.2</text>
<text x="1193.9" y="210.25" font-size="18.2" text-anchor="end" stroke="#000" stroke-width="0.8">0.1</text>
<text x="1193.9" y="271.02" font-size="18.2" text-anchor="end" stroke="#000" stroke-width="0.8">0.0</text>
<text x="1193.9" y="331.8" font-size="18.2" text-anchor="end" stroke="#000" stroke-width="0.8">-0.1</text>
<path d="M1196.1 82.2H1203.3M1196.1 142.97H1203.3M1196.1 203.75H1203.3M1196.1 264.52H1203.3" stroke="#000" stroke-width="2.2" fill="none"/>
<text x="1202.4" y="356.8" font-size="18.2" text-anchor="middle" stroke="#000" stroke-width="0.8">0</text>
<text x="1270.7" y="356.8" font-size="18.2" text-anchor="middle" stroke="#000" stroke-width="0.8">30</text>
<text x="1348.3" y="356.8" font-size="18.2" text-anchor="middle" stroke="#000" stroke-width="0.8">60</text>
<text x="1421.2" y="356.8" font-size="18.2" text-anchor="middle" stroke="#000" stroke-width="0.8">90</text>
<text x="1489.9" y="356.8" font-size="18.2" text-anchor="middle" stroke="#000" stroke-width="0.8">120</text>
<text x="1347.2" y="390" font-size="18.2" text-anchor="middle" font-weight="bold" textLength="75.9" lengthAdjust="spacingAndGlyphs" >time, sec</text>
<text transform="translate(1149.7 204) rotate(-90)" font-size="18.2" font-weight="bold" text-anchor="middle" textLength="68.6" lengthAdjust="spacingAndGlyphs">F<tspan font-size="13.4" dy="4.2">340</tspan><tspan dy="-4.2">/F</tspan><tspan font-size="13.4" dy="4.2">380</tspan></text>
<path d="M1492.4 29H1518.1" stroke="#000" stroke-width="2.2" fill="none"/>
<circle cx="1505.25" cy="29" r="2.4" fill="#000"/>
<text x="1533.7" y="34.9" font-size="18.2" font-weight="bold" textLength="58.7" lengthAdjust="spacingAndGlyphs" >control</text>
<path d="M1492.4 56.9H1518.1" stroke="#FF0000" stroke-width="2.2" fill="none"/>
<circle cx="1505.25" cy="56.9" r="2.4" fill="#FF0000"/>
<text x="1533.7" y="62.9" font-size="18.2" font-weight="bold" textLength="109.3" lengthAdjust="spacingAndGlyphs" >100 nM SkQ1</text>
<path d="M1492.4 81.4H1518.1" stroke="#00FF00" stroke-width="2.2" fill="none"/>
<circle cx="1505.25" cy="81.4" r="2.4" fill="#00FF00"/>
<text x="1533.7" y="87.4" font-size="18.2" font-weight="bold" textLength="133.7" lengthAdjust="spacingAndGlyphs" >100 nM C12TTP</text>
<path d="M1492.4 106.6H1518.1" stroke="#0000FF" stroke-width="2.2" fill="none"/>
<circle cx="1505.25" cy="106.6" r="2.4" fill="#0000FF"/>
<text x="1533.7" y="112.6" font-size="18.2" font-weight="bold" textLength="94.8" lengthAdjust="spacingAndGlyphs" >1 µM FCCP</text>
<text x="1205.2" y="37.4" font-size="18.8" textLength="24" lengthAdjust="spacingAndGlyphs" stroke="#000" stroke-width="0.5">OZ</text>
<path d="M1215.15 48.5V59.8H1209.3L1216.9 77.6L1224.5 59.8H1218.65V48.5Z" fill="#000"/>
<text transform="translate(1128.8 33.3) scale(1,1.045)" font-size="41" font-weight="bold">C</text>
</g>
<g>
<polyline points="958.5,1095.74 962.49,1100.61 966.48,1098.66 970.47,1095.74 974.47,1103.53 978.46,1090.87 982.45,1076.28 986.44,1056.81 990.43,1076.28 994.42,1090.87 998.42,1088.93 1002.41,1066.54 1006.4,1066.54 1010.39,1066.54 1014.38,1066.54 1018.37,1056.81 1022.36,1056.81 1026.36,1066.54 1030.35,1037.35 1034.34,1056.81 1038.33,1037.35 1042.32,1056.81 1046.31,1056.81 1050.31,1027.62 1054.3,1066.54 1058.29,1037.35 1062.28,1017.88 1066.27,1027.62 1070.26,1027.62 1074.25,1017.88 1078.25,1027.62 1082.24,1037.35 1086.23,1027.62 1090.22,1037.35 1094.21,1027.62 1098.2,998.42 1102.2,1027.62 1106.19,1008.15 1110.18,1037.35 1114.17,1037.35 1118.16,998.42 1122.15,998.42 1126.15,998.42 1130.14,998.42 1134.13,1008.15 1138.12,998.42 1142.11,1008.15 1146.1,1027.62 1150.09,1008.15 1154.09,988.69 1158.08,998.42 1162.07,998.42 1166.06,1017.88 1170.05,988.69 1174.04,1017.88 1178.04,998.42 1182.03,988.69 1186.02,1008.15 1190.01,988.69 1194,988.69 1197.99,969.22 1201.98,969.22 1205.98,988.69 1209.97,1008.15 1213.96,1008.15 1217.95,998.42 1221.94,959.49 1225.93,1008.15 1229.93,1008.15 1233.92,959.49 1237.91,978.96 1241.9,1017.88" fill="none" stroke="#00FF00" stroke-width="2.1" stroke-linejoin="round"/>
<path d="M958.5 1095.74h.01M962.49 1100.61h.01M966.48 1098.66h.01M970.47 1095.74h.01M974.47 1103.53h.01M978.46 1090.87h.01M982.45 1076.28h.01M986.44 1056.81h.01M990.43 1076.28h.01M994.42 1090.87h.01M998.42 1088.93h.01M1002.41 1066.54h.01M1006.4 1066.54h.01M1010.39 1066.54h.01M1014.38 1066.54h.01M1018.37 1056.81h.01M1022.36 1056.81h.01M1026.36 1066.54h.01M1030.35 1037.35h.01M1034.34 1056.81h.01M1038.33 1037.35h.01M1042.32 1056.81h.01M1046.31 1056.81h.01M1050.31 1027.62h.01M1054.3 1066.54h.01M1058.29 1037.35h.01M1062.28 1017.88h.01M1066.27 1027.62h.01M1070.26 1027.62h.01M1074.25 1017.88h.01M1078.25 1027.62h.01M1082.24 1037.35h.01M1086.23 1027.62h.01M1090.22 1037.35h.01M1094.21 1027.62h.01M1098.2 998.42h.01M1102.2 1027.62h.01M1106.19 1008.15h.01M1110.18 1037.35h.01M1114.17 1037.35h.01M1118.16 998.42h.01M1122.15 998.42h.01M1126.15 998.42h.01M1130.14 998.42h.01M1134.13 1008.15h.01M1138.12 998.42h.01M1142.11 1008.15h.01M1146.1 1027.62h.01M1150.09 1008.15h.01M1154.09 988.69h.01M1158.08 998.42h.01M1162.07 998.42h.01M1166.06 1017.88h.01M1170.05 988.69h.01M1174.04 1017.88h.01M1178.04 998.42h.01M1182.03 988.69h.01M1186.02 1008.15h.01M1190.01 988.69h.01M1194 988.69h.01M1197.99 969.22h.01M1201.98 969.22h.01M1205.98 988.69h.01M1209.97 1008.15h.01M1213.96 1008.15h.01M1217.95 998.42h.01M1221.94 959.49h.01M1225.93 1008.15h.01M1229.93 1008.15h.01M1233.92 959.49h.01M1237.91 978.96h.01M1241.9 1017.88h.01" stroke="#00FF00" stroke-width="4.6" stroke-linecap="round" fill="none"/>
<polyline points="958.5,1095.74 962.49,1095.74 966.48,1095.74 970.47,1095.74 974.47,1086.01 978.46,1076.28 982.45,1086.01 986.44,1076.28 990.43,1076.28 994.42,1086.01 998.42,1076.28 1002.41,1076.28 1006.4,1066.54 1010.39,1066.54 1014.38,1066.54 1018.37,1056.81 1022.36,1066.54 1026.36,1066.54 1030.35,1066.54 1034.34,1066.54 1038.33,1056.81 1042.32,1047.08 1046.31,1047.08 1050.31,1056.81 1054.3,1047.08 1058.29,1047.08 1062.28,1047.08 1066.27,1047.08 1070.26,1047.08 1074.25,1037.35 1078.25,1037.35 1082.24,1037.35 1086.23,1037.35 1090.22,1037.35 1094.21,1037.35 1098.2,1027.62 1102.2,1017.88 1106.19,1027.62 1110.18,1017.88 1114.17,1017.88 1118.16,1017.88 1122.15,1008.15 1126.15,1027.62 1130.14,1027.62 1134.13,1027.62 1138.12,1027.62 1142.11,1017.88 1146.1,1017.88 1150.09,1017.88 1154.09,1027.62 1158.08,1008.15 1162.07,1008.15 1166.06,1017.88 1170.05,1017.88 1174.04,1017.88 1178.04,1037.35 1182.03,1017.88 1186.02,1008.15 1190.01,1008.15 1194,1008.15 1197.99,1008.15 1201.98,1008.15 1205.98,1008.15 1209.97,1017.88 1213.96,1017.88 1217.95,1017.88 1221.94,1008.15 1225.93,1017.88 1229.93,1017.88 1233.92,1008.15 1237.91,1008.15 1241.9,1017.88" fill="none" stroke="#FF8080" stroke-width="2.1" stroke-linejoin="round"/>
<path d="M958.5 1095.74h.01M962.49 1095.74h.01M966.48 1095.74h.01M970.47 1095.74h.01M974.47 1086.01h.01M978.46 1076.28h.01M982.45 1086.01h.01M986.44 1076.28h.01M990.43 1076.28h.01M994.42 1086.01h.01M998.42 1076.28h.01M1002.41 1076.28h.01M1006.4 1066.54h.01M1010.39 1066.54h.01M1014.38 1066.54h.01M1018.37 1056.81h.01M1022.36 1066.54h.01M1026.36 1066.54h.01M1030.35 1066.54h.01M1034.34 1066.54h.01M1038.33 1056.81h.01M1042.32 1047.08h.01M1046.31 1047.08h.01M1050.31 1056.81h.01M1054.3 1047.08h.01M1058.29 1047.08h.01M1062.28 1047.08h.01M1066.27 1047.08h.01M1070.26 1047.08h.01M1074.25 1037.35h.01M1078.25 1037.35h.01M1082.24 1037.35h.01M1086.23 1037.35h.01M1090.22 1037.35h.01M1094.21 1037.35h.01M1098.2 1027.62h.01M1102.2 1017.88h.01M1106.19 1027.62h.01M1110.18 1017.88h.01M1114.17 1017.88h.01M1118.16 1017.88h.01M1122.15 1008.15h.01M1126.15 1027.62h.01M1130.14 1027.62h.01M1134.13 1027.62h.01M1138.12 1027.62h.01M1142.11 1017.88h.01M1146.1 1017.88h.01M1150.09 1017.88h.01M1154.09 1027.62h.01M1158.08 1008.15h.01M1162.07 1008.15h.01M1166.06 1017.88h.01M1170.05 1017.88h.01M1174.04 1017.88h.01M1178.04 1037.35h.01M1182.03 1017.88h.01M1186.02 1008.15h.01M1190.01 1008.15h.01M1194 1008.15h.01M1197.99 1008.15h.01M1201.98 1008.15h.01M1205.98 1008.15h.01M1209.97 1017.88h.01M1213.96 1017.88h.01M1217.95 1017.88h.01M1221.94 1008.15h.01M1225.93 1017.88h.01M1229.93 1017.88h.01M1233.92 1008.15h.01M1237.91 1008.15h.01M1241.9 1017.88h.01" stroke="#FF8080" stroke-width="4.6" stroke-linecap="round" fill="none"/>
<polyline points="958.5,1090.87 962.49,1086.01 966.48,1090.87 970.47,1076.28 974.47,1076.28 978.46,1066.54 982.45,1066.54 986.44,1047.08 990.43,1047.08 994.42,1047.08 998.42,1047.08 1002.41,1017.88 1006.4,1027.62 1010.39,1027.62 1014.38,1017.88 1018.37,1008.15 1022.36,1008.15 1026.36,1008.15 1030.35,1008.15 1034.34,1008.15 1038.33,1008.15 1042.32,978.96 1046.31,969.22 1050.31,978.96 1054.3,988.69 1058.29,988.69 1062.28,998.42 1066.27,988.69 1070.26,978.96 1074.25,978.96 1078.25,978.96 1082.24,969.22 1086.23,959.49 1090.22,978.96 1094.21,959.49 1098.2,978.96 1102.2,949.76 1106.19,959.49 1110.18,969.22 1114.17,949.76 1118.16,959.49 1122.15,949.76 1126.15,949.76 1130.14,969.22 1134.13,949.76 1138.12,959.49 1142.11,959.49 1146.1,959.49 1150.09,949.76 1154.09,940.03 1158.08,940.03 1162.07,949.76 1166.06,949.76 1170.05,940.03 1174.04,949.76 1178.04,949.76 1182.03,940.03 1186.02,940.03 1190.01,949.76 1194,940.03 1197.99,949.76 1201.98,940.03 1205.98,949.76 1209.97,940.03 1213.96,949.76 1217.95,959.49 1221.94,949.76 1225.93,969.22 1229.93,949.76 1233.92,940.03 1237.91,930.3 1241.9,940.03" fill="none" stroke="#FF0000" stroke-width="2.1" stroke-linejoin="round"/>
<path d="M958.5 1090.87h.01M962.49 1086.01h.01M966.48 1090.87h.01M970.47 1076.28h.01M974.47 1076.28h.01M978.46 1066.54h.01M982.45 1066.54h.01M986.44 1047.08h.01M990.43 1047.08h.01M994.42 1047.08h.01M998.42 1047.08h.01M1002.41 1017.88h.01M1006.4 1027.62h.01M1010.39 1027.62h.01M1014.38 1017.88h.01M1018.37 1008.15h.01M1022.36 1008.15h.01M1026.36 1008.15h.01M1030.35 1008.15h.01M1034.34 1008.15h.01M1038.33 1008.15h.01M1042.32 978.96h.01M1046.31 969.22h.01M1050.31 978.96h.01M1054.3 988.69h.01M1058.29 988.69h.01M1062.28 998.42h.01M1066.27 988.69h.01M1070.26 978.96h.01M1074.25 978.96h.01M1078.25 978.96h.01M1082.24 969.22h.01M1086.23 959.49h.01M1090.22 978.96h.01M1094.21 959.49h.01M1098.2 978.96h.01M1102.2 949.76h.01M1106.19 959.49h.01M1110.18 969.22h.01M1114.17 949.76h.01M1118.16 959.49h.01M1122.15 949.76h.01M1126.15 949.76h.01M1130.14 969.22h.01M1134.13 949.76h.01M1138.12 959.49h.01M1142.11 959.49h.01M1146.1 959.49h.01M1150.09 949.76h.01M1154.09 940.03h.01M1158.08 940.03h.01M1162.07 949.76h.01M1166.06 949.76h.01M1170.05 940.03h.01M1174.04 949.76h.01M1178.04 949.76h.01M1182.03 940.03h.01M1186.02 940.03h.01M1190.01 949.76h.01M1194 940.03h.01M1197.99 949.76h.01M1201.98 940.03h.01M1205.98 949.76h.01M1209.97 940.03h.01M1213.96 949.76h.01M1217.95 959.49h.01M1221.94 949.76h.01M1225.93 969.22h.01M1229.93 949.76h.01M1233.92 940.03h.01M1237.91 930.3h.01M1241.9 940.03h.01" stroke="#FF0000" stroke-width="4.6" stroke-linecap="round" fill="none"/>
<polyline points="958.5,1095.74 962.49,1099.24 966.48,1103.23 970.47,1098.66 974.47,1103.53 978.46,1090.87 982.45,1103.23 986.44,1088.25 990.43,1093.21 994.42,1104.21 998.42,1098.27 1002.41,1089.22 1006.4,1092.82 1010.39,1097.69 1014.38,1094.77 1018.37,1105.76 1022.36,1089.22 1026.36,1096.71 1030.35,1093.79 1034.34,1102.26 1038.33,1101.29 1042.32,1093.79 1046.31,1085.72 1050.31,1100.22 1054.3,1101.29 1058.29,1097.2 1062.28,1093.79 1066.27,1090.87 1070.26,1096.71 1074.25,1094.28 1078.25,1087.76 1082.24,1086.2 1086.23,1103.23 1090.22,1088.73 1094.21,1095.74 1098.2,1092.24 1102.2,1086.69 1106.19,1102.26 1110.18,1096.23 1114.17,1091.26 1118.16,1090.87 1122.15,1086.69 1126.15,1097.69 1130.14,1090.19 1134.13,1085.72 1138.12,1085.72 1142.11,1093.21 1146.1,1089.22 1150.09,1095.74 1154.09,1092.24 1158.08,1092.24 1162.07,1100.22 1166.06,1085.72 1170.05,1096.71 1174.04,1092.82 1178.04,1097.2 1182.03,1091.26 1186.02,1094.28 1190.01,1092.24 1194,1099.24 1197.99,1090.87 1201.98,1091.85 1205.98,1094.77 1209.97,1085.72 1213.96,1086.2 1217.95,1094.77 1221.94,1088.73 1225.93,1101.29 1229.93,1087.27 1233.92,1085.72 1237.91,1085.72 1241.9,1094.28" fill="none" stroke="#000" stroke-width="2.1" stroke-linejoin="round"/>
<path d="M958.5 1095.74h.01M962.49 1099.24h.01M966.48 1103.23h.01M970.47 1098.66h.01M974.47 1103.53h.01M978.46 1090.87h.01M982.45 1103.23h.01M986.44 1088.25h.01M990.43 1093.21h.01M994.42 1104.21h.01M998.42 1098.27h.01M1002.41 1089.22h.01M1006.4 1092.82h.01M1010.39 1097.69h.01M1014.38 1094.77h.01M1018.37 1105.76h.01M1022.36 1089.22h.01M1026.36 1096.71h.01M1030.35 1093.79h.01M1034.34 1102.26h.01M1038.33 1101.29h.01M1042.32 1093.79h.01M1046.31 1085.72h.01M1050.31 1100.22h.01M1054.3 1101.29h.01M1058.29 1097.2h.01M1062.28 1093.79h.01M1066.27 1090.87h.01M1070.26 1096.71h.01M1074.25 1094.28h.01M1078.25 1087.76h.01M1082.24 1086.2h.01M1086.23 1103.23h.01M1090.22 1088.73h.01M1094.21 1095.74h.01M1098.2 1092.24h.01M1102.2 1086.69h.01M1106.19 1102.26h.01M1110.18 1096.23h.01M1114.17 1091.26h.01M1118.16 1090.87h.01M1122.15 1086.69h.01M1126.15 1097.69h.01M1130.14 1090.19h.01M1134.13 1085.72h.01M1138.12 1085.72h.01M1142.11 1093.21h.01M1146.1 1089.22h.01M1150.09 1095.74h.01M1154.09 1092.24h.01M1158.08 1092.24h.01M1162.07 1100.22h.01M1166.06 1085.72h.01M1170.05 1096.71h.01M1174.04 1092.82h.01M1178.04 1097.2h.01M1182.03 1091.26h.01M1186.02 1094.28h.01M1190.01 1092.24h.01M1194 1099.24h.01M1197.99 1090.87h.01M1201.98 1091.85h.01M1205.98 1094.77h.01M1209.97 1085.72h.01M1213.96 1086.2h.01M1217.95 1094.77h.01M1221.94 1088.73h.01M1225.93 1101.29h.01M1229.93 1087.27h.01M1233.92 1085.72h.01M1237.91 1085.72h.01M1241.9 1094.28h.01" stroke="#000" stroke-width="4.6" stroke-linecap="round" fill="none"/>
<path d="M956.7 900V1145.5" stroke="#000" stroke-width="2.2" fill="none"/>
<path d="M949.5 1144.4H1244.8" stroke="#000" stroke-width="2.2" fill="none"/>
<path d="M958.5 1144.4v7.9M962.49 1144.4v7.9M966.48 1144.4v7.9M970.47 1144.4v7.9M974.47 1144.4v7.9M978.46 1144.4v7.9M982.45 1144.4v7.9M986.44 1144.4v7.9M990.43 1144.4v7.9M994.42 1144.4v7.9M998.42 1144.4v7.9M1002.41 1144.4v7.9M1006.4 1144.4v7.9M1010.39 1144.4v7.9M1014.38 1144.4v7.9M1018.37 1144.4v7.9M1022.36 1144.4v7.9M1026.36 1144.4v7.9M1030.35 1144.4v7.9M1034.34 1144.4v7.9M1038.33 1144.4v7.9M1042.32 1144.4v7.9M1046.31 1144.4v7.9M1050.31 1144.4v7.9M1054.3 1144.4v7.9M1058.29 1144.4v7.9M1062.28 1144.4v7.9M1066.27 1144.4v7.9M1070.26 1144.4v7.9M1074.25 1144.4v7.9M1078.25 1144.4v7.9M1082.24 1144.4v7.9M1086.23 1144.4v7.9M1090.22 1144.4v7.9M1094.21 1144.4v7.9M1098.2 1144.4v7.9M1102.2 1144.4v7.9M1106.19 1144.4v7.9M1110.18 1144.4v7.9M1114.17 1144.4v7.9M1118.16 1144.4v7.9M1122.15 1144.4v7.9M1126.15 1144.4v7.9M1130.14 1144.4v7.9M1134.13 1144.4v7.9M1138.12 1144.4v7.9M1142.11 1144.4v7.9M1146.1 1144.4v7.9M1150.09 1144.4v7.9M1154.09 1144.4v7.9M1158.08 1144.4v7.9M1162.07 1144.4v7.9M1166.06 1144.4v7.9M1170.05 1144.4v7.9M1174.04 1144.4v7.9M1178.04 1144.4v7.9M1182.03 1144.4v7.9M1186.02 1144.4v7.9M1190.01 1144.4v7.9M1194 1144.4v7.9M1197.99 1144.4v7.9M1201.98 1144.4v7.9M1205.98 1144.4v7.9M1209.97 1144.4v7.9M1213.96 1144.4v7.9M1217.95 1144.4v7.9M1221.94 1144.4v7.9M1225.93 1144.4v7.9M1229.93 1144.4v7.9M1233.92 1144.4v7.9M1237.91 1144.4v7.9M1241.9 1144.4v7.9" stroke="#000" stroke-width="2.1" fill="none"/>
<text x="947.3" y="907.6" font-size="18.2" text-anchor="end" stroke="#000" stroke-width="0.8">0.20</text>
<text x="947.3" y="956.26" font-size="18.2" text-anchor="end" stroke="#000" stroke-width="0.8">0.15</text>
<text x="947.3" y="1004.92" font-size="18.2" text-anchor="end" stroke="#000" stroke-width="0.8">0.10</text>
<text x="947.3" y="1053.58" font-size="18.2" text-anchor="end" stroke="#000" stroke-width="0.8">0.05</text>
<text x="947.3" y="1102.24" font-size="18.2" text-anchor="end" stroke="#000" stroke-width="0.8">0.00</text>
<text x="947.3" y="1150.9" font-size="18.2" text-anchor="end" stroke="#000" stroke-width="0.8">-0.05</text>
<path d="M949.5 901.1H956.7M949.5 949.76H956.7M949.5 998.42H956.7M949.5 1047.08H956.7M949.5 1095.74H956.7" stroke="#000" stroke-width="2.2" fill="none"/>
<text x="955.7" y="1174.4" font-size="18.2" text-anchor="middle" stroke="#000" stroke-width="0.8">0</text>
<text x="1024" y="1174.4" font-size="18.2" text-anchor="middle" stroke="#000" stroke-width="0.8">30</text>
<text x="1101.2" y="1174.4" font-size="18.2" text-anchor="middle" stroke="#000" stroke-width="0.8">60</text>
<text x="1173.8" y="1174.4" font-size="18.2" text-anchor="middle" stroke="#000" stroke-width="0.8">90</text>
<text x="1242.6" y="1174.4" font-size="18.2" text-anchor="middle" stroke="#000" stroke-width="0.8">120</text>
<text x="1100.7" y="1208.5" font-size="18.2" text-anchor="middle" font-weight="bold" textLength="75.9" lengthAdjust="spacingAndGlyphs" >time, sec</text>
<text transform="translate(893 1022.9) rotate(-90)" font-size="18.2" font-weight="bold" text-anchor="middle" textLength="68.6" lengthAdjust="spacingAndGlyphs">F<tspan font-size="13.4" dy="4.2">340</tspan><tspan dy="-4.2">/F</tspan><tspan font-size="13.4" dy="4.2">380</tspan></text>
<path d="M1255.2 853.9H1281.1" stroke="#000" stroke-width="2.2" fill="none"/>
<circle cx="1268.15" cy="853.9" r="2.4" fill="#000"/>
<text x="1296.5" y="860.1" font-size="18.2" font-weight="bold" textLength="65.4" lengthAdjust="spacingAndGlyphs" >medium</text>
<path d="M1255.2 881.9H1281.1" stroke="#FF0000" stroke-width="2.2" fill="none"/>
<circle cx="1268.15" cy="881.9" r="2.4" fill="#FF0000"/>
<text x="1296.5" y="888" font-size="18.2" font-weight="bold" textLength="109.3" lengthAdjust="spacingAndGlyphs" >100 nM SkQ1</text>
<path d="M1255.2 907.4H1281.1" stroke="#FF8080" stroke-width="2.2" fill="none"/>
<circle cx="1268.15" cy="907.4" r="2.4" fill="#FF8080"/>
<text x="1296.5" y="913.7" font-size="18.2" font-weight="bold" textLength="99.8" lengthAdjust="spacingAndGlyphs" >50 nM SkQ1</text>
<path d="M1255.2 935.3H1281.1" stroke="#00FF00" stroke-width="2.2" fill="none"/>
<circle cx="1268.15" cy="935.3" r="2.4" fill="#00FF00"/>
<text x="1296.5" y="941.2" font-size="18.2" font-weight="bold" textLength="133.7" lengthAdjust="spacingAndGlyphs" >100 nM C12TTP</text>
<text x="929.3" y="862.7" font-size="18.8" textLength="118.9" lengthAdjust="spacingAndGlyphs" stroke="#000" stroke-width="0.5">SkQ1/C12TTP</text>
<path d="M968.35 874.7V887.7H962.5L970.1 904.9L977.7 887.7H971.85V874.7Z" fill="#000"/>
<text transform="translate(864.2 856.7) scale(1,1.045)" font-size="41" font-weight="bold">H</text>
</g>
<g>
<path d="M96.1 689.7V526.96H116.7V689.7ZM138.1 689.7V534.34H158.7V689.7ZM179.8 689.7V543.27H200.4V689.7ZM221.6 689.7V562.69H242.2V689.7ZM263.3 689.7V542.11H283.9V689.7ZM305.1 689.7V567.35H325.7V689.7ZM346.8 689.7V577.26H367.4V689.7Z" fill="#000"/>
<path d="M106.4 526.96V517.83M101.4 517.83H111.4M148.4 534.34V525.6M143.4 525.6H153.4M190.1 543.27V539.19M185.1 539.19H195.1M231.9 562.69V559.1M226.9 559.1H236.9M273.6 542.11V538.52M268.6 538.52H278.6M315.4 567.35V562.5M310.4 562.5H320.4M357.1 577.26V571.24M352.1 571.24H362.1" stroke="#000" stroke-width="1.9" fill="none"/>
<path d="M86.3 494.65V690.55M81.1 689.7H378.5" stroke="#000" stroke-width="1.7" fill="none"/>
<text x="79.1" y="500.7" font-size="14.6" text-anchor="end" font-weight="bold" >20</text>
<text x="79.1" y="549.25" font-size="14.6" text-anchor="end" font-weight="bold" >15</text>
<text x="79.1" y="597.8" font-size="14.6" text-anchor="end" font-weight="bold" >10</text>
<text x="79.1" y="646.35" font-size="14.6" text-anchor="end" font-weight="bold" >5</text>
<text x="79.1" y="694.9" font-size="14.6" text-anchor="end" font-weight="bold" >0</text>
<path d="M81.1 495.5H86.3M81.1 544.05H86.3M81.1 592.6H86.3M81.1 641.15H86.3M106.4 689.7v5.8M148.4 689.7v5.8M190.1 689.7v5.8M231.9 689.7v5.8M273.6 689.7v5.8M315.4 689.7v5.8M357.1 689.7v5.8" stroke="#000" stroke-width="1.7" fill="none"/>
<text transform="translate(109.4 709.2) rotate(-45)" font-size="15.8" font-weight="bold" font-style="italic" text-anchor="end">control</text>
<text transform="translate(151.4 709.2) rotate(-45)" font-size="15.8" font-weight="bold" font-style="italic" text-anchor="end">20 nM SkQ1</text>
<text transform="translate(193.1 709.2) rotate(-45)" font-size="15.8" font-weight="bold" font-style="italic" text-anchor="end">50 nM SkQ1</text>
<text transform="translate(234.9 709.2) rotate(-45)" font-size="15.8" font-weight="bold" font-style="italic" text-anchor="end">100 nM SkQ1</text>
<text transform="translate(276.6 709.2) rotate(-45)" font-size="15.8" font-weight="bold" font-style="italic" text-anchor="end">100 nM C12TPP</text>
<text transform="translate(318.4 709.2) rotate(-45)" font-size="15.8" font-weight="bold" font-style="italic" text-anchor="end">0.2 <tspan font-family="Liberation Serif,DejaVu Serif,serif" font-weight="normal">μ</tspan>M FCCP</text>
<text transform="translate(360.1 709.2) rotate(-45)" font-size="15.8" font-weight="bold" font-style="italic" text-anchor="end">1 <tspan font-family="Liberation Serif,DejaVu Serif,serif" font-weight="normal">μ</tspan>M FCCP</text>
<text x="236.4" y="467.5" font-size="15.4" text-anchor="middle" font-weight="bold" >A23187</text>
<path d="M95.6 478.5H365.2" stroke="#000" stroke-width="1.3" fill="none"/>
<text transform="translate(51.5 592) rotate(-90)" font-size="16.5" font-weight="bold" text-anchor="middle">AUC, a.u.</text>
<text transform="translate(-0.8 449.9) scale(1,1.045)" font-size="41" font-weight="bold">D</text>
</g>
<g>
<path d="M660.4 689.2V538.37H681V689.2ZM702.1 689.2V553.26H722.7V689.2ZM743.9 689.2V584.82H764.5V689.2ZM785.4 689.2V605.69H806V689.2ZM827.1 689.2V595.34H847.7V689.2ZM868.6 689.2V617.02H889.2V689.2ZM910.1 689.2V631.26H930.7V689.2Z" fill="#000"/>
<path d="M670.7 538.37V520.57M665.7 520.57H675.7M712.4 553.26V534.49M707.4 534.49H717.4M754.2 584.82V575.27M749.2 575.27H759.2M795.7 605.69V596.63M790.7 596.63H800.7M837.4 595.34V583.36M832.4 583.36H842.4M878.9 617.02V605.05M873.9 605.05H883.9M920.4 631.26V623.17M915.4 623.17H925.4" stroke="#000" stroke-width="1.9" fill="none"/>
<path d="M650 494.15V690.05M644.8 689.2H942.3" stroke="#000" stroke-width="1.7" fill="none"/>
<text x="642.8" y="500.2" font-size="14.6" text-anchor="end" font-weight="bold" >60</text>
<text x="642.8" y="564.93" font-size="14.6" text-anchor="end" font-weight="bold" >40</text>
<text x="642.8" y="629.67" font-size="14.6" text-anchor="end" font-weight="bold" >20</text>
<text x="642.8" y="694.4" font-size="14.6" text-anchor="end" font-weight="bold" >0</text>
<path d="M644.8 495H650M644.8 559.73H650M644.8 624.47H650M670.7 689.2v5.8M712.4 689.2v5.8M754.2 689.2v5.8M795.7 689.2v5.8M837.4 689.2v5.8M878.9 689.2v5.8M920.4 689.2v5.8" stroke="#000" stroke-width="1.7" fill="none"/>
<text transform="translate(673.7 708.7) rotate(-45)" font-size="15.8" font-weight="bold" font-style="italic" text-anchor="end">control</text>
<text transform="translate(715.4 708.7) rotate(-45)" font-size="15.8" font-weight="bold" font-style="italic" text-anchor="end">20 nM SkQ1</text>
<text transform="translate(757.2 708.7) rotate(-45)" font-size="15.8" font-weight="bold" font-style="italic" text-anchor="end">50 nM SkQ1</text>
<text transform="translate(798.7 708.7) rotate(-45)" font-size="15.8" font-weight="bold" font-style="italic" text-anchor="end">100 nM SkQ1</text>
<text transform="translate(840.4 708.7) rotate(-45)" font-size="15.8" font-weight="bold" font-style="italic" text-anchor="end">100 nM C12TPP</text>
<text transform="translate(881.9 708.7) rotate(-45)" font-size="15.8" font-weight="bold" font-style="italic" text-anchor="end">0.2 <tspan font-family="Liberation Serif,DejaVu Serif,serif" font-weight="normal">μ</tspan>M FCCP</text>
<text transform="translate(923.4 708.7) rotate(-45)" font-size="15.8" font-weight="bold" font-style="italic" text-anchor="end">1 <tspan font-family="Liberation Serif,DejaVu Serif,serif" font-weight="normal">μ</tspan>M FCCP</text>
<text x="802.2" y="467.5" font-size="15.4" text-anchor="middle" font-weight="bold" >CB_fMLP</text>
<path d="M662.6 477.9H926.7" stroke="#000" stroke-width="1.3" fill="none"/>
<text transform="translate(616.5 592.2) rotate(-90)" font-size="16.5" font-weight="bold" text-anchor="middle">AUC, a.u.</text>
<text x="754.2" y="567.9" font-size="16" text-anchor="middle" font-weight="bold" >*</text>
<text x="795.9" y="591.3" font-size="16" text-anchor="middle" font-weight="bold" >**</text>
<text x="837.4" y="575.9" font-size="16" text-anchor="middle" font-weight="bold" >*</text>
<text x="920.4" y="618.9" font-size="16" text-anchor="middle" font-weight="bold" >**</text>
<text transform="translate(576.6 449.9) scale(1,1.045)" font-size="41" font-weight="bold">E</text>
</g>
<g>
<path d="M1219.4 687.3V562.56H1240V687.3ZM1261.1 687.3V563.34H1281.7V687.3ZM1302.6 687.3V563.34H1323.2V687.3ZM1344.4 687.3V556.33H1365V687.3ZM1385.9 687.3V586.73H1406.5V687.3ZM1427.6 687.3V589.85H1448.2V687.3ZM1469.4 687.3V601.08H1490V687.3Z" fill="#000"/>
<path d="M1229.7 562.56V536.84M1224.7 536.84H1234.7M1271.4 563.34V537.93M1266.4 537.93H1276.4M1312.9 563.34V528.26M1307.9 528.26H1317.9M1354.7 556.33V516.02M1349.7 516.02H1359.7M1396.2 586.73V565.29M1391.2 565.29H1401.2M1437.9 589.85V576.6M1432.9 576.6H1442.9M1479.7 601.08V590.63M1474.7 590.63H1484.7" stroke="#000" stroke-width="1.9" fill="none"/>
<path d="M1209.3 491.55V688.15M1204.1 687.3H1501.8" stroke="#000" stroke-width="1.7" fill="none"/>
<text x="1202.1" y="497.6" font-size="14.6" text-anchor="end" font-weight="bold" >25</text>
<text x="1202.1" y="536.58" font-size="14.6" text-anchor="end" font-weight="bold" >20</text>
<text x="1202.1" y="575.56" font-size="14.6" text-anchor="end" font-weight="bold" >15</text>
<text x="1202.1" y="614.54" font-size="14.6" text-anchor="end" font-weight="bold" >10</text>
<text x="1202.1" y="653.52" font-size="14.6" text-anchor="end" font-weight="bold" >5</text>
<text x="1202.1" y="692.5" font-size="14.6" text-anchor="end" font-weight="bold" >0</text>
<path d="M1204.1 492.4H1209.3M1204.1 531.38H1209.3M1204.1 570.36H1209.3M1204.1 609.34H1209.3M1204.1 648.32H1209.3M1229.7 687.3v5.8M1271.4 687.3v5.8M1312.9 687.3v5.8M1354.7 687.3v5.8M1396.2 687.3v5.8M1437.9 687.3v5.8M1479.7 687.3v5.8" stroke="#000" stroke-width="1.7" fill="none"/>
<text transform="translate(1232.7 706.8) rotate(-45)" font-size="15.8" font-weight="bold" font-style="italic" text-anchor="end">control</text>
<text transform="translate(1274.4 706.8) rotate(-45)" font-size="15.8" font-weight="bold" font-style="italic" text-anchor="end">20 nM SkQ1</text>
<text transform="translate(1315.9 706.8) rotate(-45)" font-size="15.8" font-weight="bold" font-style="italic" text-anchor="end">50 nM SkQ1</text>
<text transform="translate(1357.7 706.8) rotate(-45)" font-size="15.8" font-weight="bold" font-style="italic" text-anchor="end">100 nM SkQ1</text>
<text transform="translate(1399.2 706.8) rotate(-45)" font-size="15.8" font-weight="bold" font-style="italic" text-anchor="end">100 nM C12TPP</text>
<text transform="translate(1440.9 706.8) rotate(-45)" font-size="15.8" font-weight="bold" font-style="italic" text-anchor="end">0.2 <tspan font-family="Liberation Serif,DejaVu Serif,serif" font-weight="normal">μ</tspan>M FCCP</text>
<text transform="translate(1482.7 706.8) rotate(-45)" font-size="15.8" font-weight="bold" font-style="italic" text-anchor="end">1 <tspan font-family="Liberation Serif,DejaVu Serif,serif" font-weight="normal">μ</tspan>M FCCP</text>
<text x="1355.7" y="466.6" font-size="16.5" text-anchor="middle" textLength="21.2" lengthAdjust="spacingAndGlyphs" stroke="#000" stroke-width="0.35">OZ</text>
<path d="M1216.5 477.3H1487.7" stroke="#000" stroke-width="1.3" fill="none"/>
<text transform="translate(1175.3 590.2) rotate(-90)" font-size="16.5" font-weight="bold" text-anchor="middle">AUC, a.u.</text>
<text transform="translate(1127.8 450.1) scale(1,1.045)" font-size="41" font-weight="bold">F</text>
</g>
<g>
<path d="M324 1144.4V1089.66H333.2V1144.4ZM376.1 1144.4V1093.31H385.3V1144.4ZM428.4 1144.4V1097.44H437.6V1144.4ZM480.8 1144.4V1103.04H490V1144.4ZM533 1144.4V1095.74H542.2V1144.4ZM585.2 1144.4V1095.74H594.4V1144.4ZM637.3 1144.4V1103.53H646.5V1144.4Z" fill="#000"/>
<path d="M338.2 1144.4V971.66H347.4V1144.4ZM390.3 1144.4V983.82H399.5V1144.4ZM442.6 1144.4V1010.59H451.8V1144.4ZM495 1144.4V1019.83H504.2V1144.4ZM547.2 1144.4V1003.29H556.4V1144.4ZM599.4 1144.4V1008.64H608.6V1144.4ZM651.5 1144.4V1047.57H660.7V1144.4Z" fill="#858585"/>
<path d="M352.4 1144.4V1092.58H361.6V1144.4ZM404.5 1144.4V1097.44H413.7V1144.4ZM456.8 1144.4V1092.82H466V1144.4ZM509.2 1144.4V1096.23H518.4V1144.4ZM561.4 1144.4V1104.99H570.6V1144.4ZM613.6 1144.4V1108.88H622.8V1144.4ZM665.7 1144.4V1108.88H674.9V1144.4Z" fill="#666666"/>
<path d="M328.6 1089.66V1083.58M326.4 1083.98H330.8M380.7 1093.31V1086.01M378.5 1086.41H382.9M433 1097.44V1095.74M430.8 1096.14H435.2M485.4 1103.04V1099.88M483.2 1100.28H487.6M537.6 1095.74V1090.14M535.4 1090.54H539.8M589.8 1095.74V1090.14M587.6 1090.54H592M641.9 1103.53V1101.09M639.7 1101.49H644.1M342.8 971.66V944.89M340.6 945.29H345M394.9 983.82V949.76M392.7 950.16H397.1M447.2 1010.59V995.99M445 996.39H449.4M499.6 1019.83V1007.67M497.4 1008.07H501.8M551.8 1003.29V982.61M549.6 983.01H554M604 1008.64V985.77M601.8 986.17H606.2M656.1 1047.57V1023.24M653.9 1023.64H658.3M357 1092.58V1087.71M354.8 1088.11H359.2M409.1 1097.44V1093.31M406.9 1093.71H411.3M461.4 1092.82V1087.95M459.2 1088.35H463.6M513.8 1096.23V1091.36M511.6 1091.76H516M566 1104.99V1101.82M563.8 1102.22H568.2M618.2 1108.88V1104.99M616 1105.39H620.4M670.3 1108.88V1104.99M668.1 1105.39H672.5" stroke="#000" stroke-width="1.7" fill="none"/>
<path d="M317.1 900.1V1145.4M310.1 1144.4H683" stroke="#000" stroke-width="2.0" fill="none"/>
<text x="307.5" y="907.6" font-size="18.2" text-anchor="end" stroke="#000" stroke-width="0.8">1.0</text>
<text x="307.5" y="956.26" font-size="18.2" text-anchor="end" stroke="#000" stroke-width="0.8">0.8</text>
<text x="307.5" y="1004.92" font-size="18.2" text-anchor="end" stroke="#000" stroke-width="0.8">0.6</text>
<text x="307.5" y="1053.58" font-size="18.2" text-anchor="end" stroke="#000" stroke-width="0.8">0.4</text>
<text x="307.5" y="1102.24" font-size="18.2" text-anchor="end" stroke="#000" stroke-width="0.8">0.2</text>
<text x="307.5" y="1150.9" font-size="18.2" text-anchor="end" stroke="#000" stroke-width="0.8">0.0</text>
<path d="M310.1 901.1H317.1M310.1 949.76H317.1M310.1 998.42H317.1M310.1 1047.08H317.1M310.1 1095.74H317.1M342.6 1144.4v7.2M394.7 1144.4v7.2M447 1144.4v7.2M499.4 1144.4v7.2M551.6 1144.4v7.2M603.8 1144.4v7.2M655.9 1144.4v7.2" stroke="#000" stroke-width="2.0" fill="none"/>
<text transform="translate(345.3 1164.4) rotate(-45)" font-size="18.3" font-weight="bold" text-anchor="end">control</text>
<text transform="translate(397.4 1164.4) rotate(-45)" font-size="18.3" font-weight="bold" text-anchor="end">20 nM SkQ1</text>
<text transform="translate(449.7 1164.4) rotate(-45)" font-size="18.3" font-weight="bold" text-anchor="end">50 nM SkQ1</text>
<text transform="translate(502.1 1164.4) rotate(-45)" font-size="18.3" font-weight="bold" text-anchor="end">100 nM SkQ1</text>
<text transform="translate(554.3 1164.4) rotate(-45)" font-size="18.3" font-weight="bold" text-anchor="end">100 nM C12TPP</text>
<text transform="translate(606.5 1164.4) rotate(-45)" font-size="18.3" font-weight="bold" text-anchor="end">0.2 <tspan font-family="Liberation Serif,DejaVu Serif,serif" font-weight="normal">μ</tspan>M FCCP</text>
<text transform="translate(658.6 1164.4) rotate(-45)" font-size="18.3" font-weight="bold" text-anchor="end">1 <tspan font-family="Liberation Serif,DejaVu Serif,serif" font-weight="normal">μ</tspan>M FCCP</text>
<text transform="translate(271.3 1022.8) rotate(-90)" font-size="18.2" font-weight="bold" text-anchor="middle" textLength="138.3" lengthAdjust="spacingAndGlyphs">peak height, a.u.</text>
<path d="M327.8 893.8V886.6H342.6V893.8M346 928V920.8H360.6V928" stroke="#000" stroke-width="1.2" fill="none"/>
<text x="333.3" y="886.9" font-size="19" text-anchor="middle" textLength="30.5" lengthAdjust="spacingAndGlyphs" stroke="#000" stroke-width="0.3">****</text>
<text x="354" y="921.9" font-size="19" text-anchor="middle" textLength="30.5" lengthAdjust="spacingAndGlyphs" stroke="#000" stroke-width="0.3">****</text>
<text x="500.2" y="991.4" font-size="17.5" text-anchor="middle" font-weight="bold" >#</text>
<text x="655.9" y="1005.5" font-size="17.5" text-anchor="middle" font-weight="bold" textLength="39.9" lengthAdjust="spacingAndGlyphs" >####</text>
<rect x="706.4" y="912" width="26.1" height="10.3" fill="#000"/>
<text x="747.5" y="922.9" font-size="18.6" textLength="58.7" lengthAdjust="spacingAndGlyphs" stroke="#000" stroke-width="0.35">A23187</text>
<rect x="706.4" y="940.2" width="26.1" height="10.3" fill="#858585"/>
<text x="747.5" y="950.7" font-size="18.6" textLength="80.8" lengthAdjust="spacingAndGlyphs" stroke="#000" stroke-width="0.35">CB_fMLP</text>
<rect x="706.4" y="968.3" width="26.1" height="10.3" fill="#666666"/>
<text x="747.5" y="978.8" font-size="18.6" textLength="24" lengthAdjust="spacingAndGlyphs" stroke="#000" stroke-width="0.35">OZ</text>
<text transform="translate(215.2 856.9) scale(1.06,1.045)" font-size="41" font-weight="bold">G</text>
</g>
</svg>
</body></html>
